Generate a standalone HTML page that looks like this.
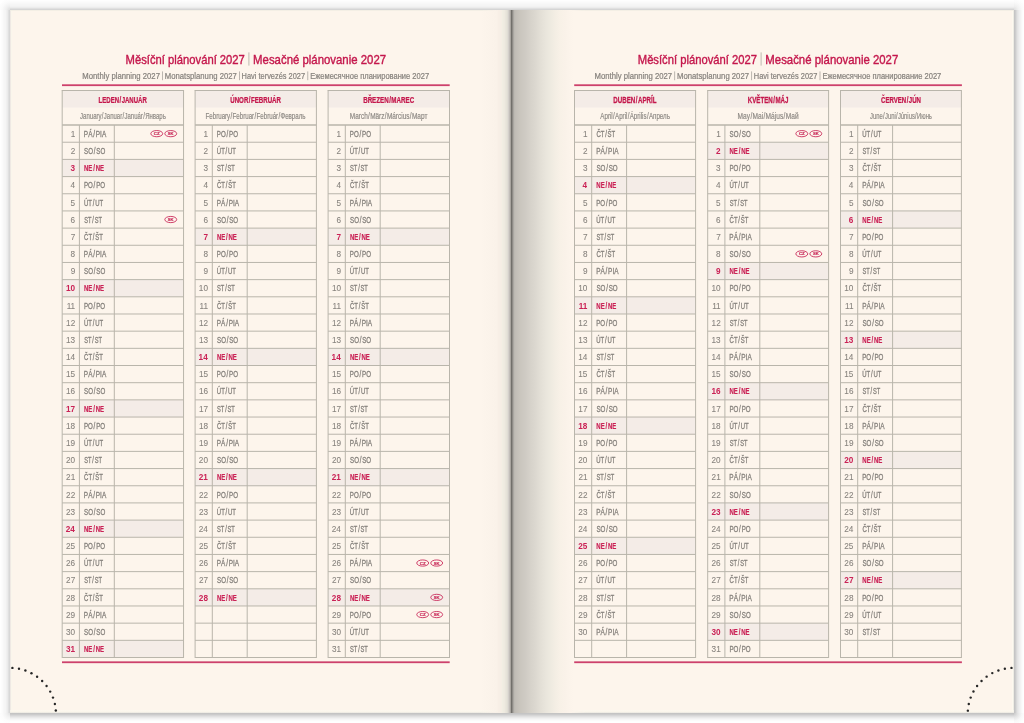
<!DOCTYPE html>
<html><head><meta charset="utf-8"><style>
html,body{margin:0;padding:0;}
body{width:1024px;height:723px;overflow:hidden;background:#fff;position:relative;font-family:"Liberation Sans",sans-serif;}
div{position:absolute;}
#pg{left:10px;top:10px;width:1004px;height:703px;background:linear-gradient(to right,#efe9e4 0.5px,#faf6ec 1.5px,#fdf5ec 2.5px,#fdf5ec 470.5px,#faf2e9 486.5px,#f9f1e8 487.5px,#f8efe6 488.5px,#f7efe6 489.5px,#f6eee5 490.5px,#f5eee4 491.5px,#f1eee3 492.5px,#f0ece1 493.5px,#eeeae0 494.5px,#eae6dc 495.5px,#e6e3d9 496.5px,#e0ddd4 497.5px,#d4d0cb 498.5px,#c3bfba 499.5px,#a9a59f 500.5px,#72706b 501.5px,#8e8b86 502.5px,#aaa7a1 503.5px,#bcb9b2 504.5px,#c1bdb6 505.5px,#c3bfb8 506.5px,#cac6be 510.5px,#cfcbc4 515.5px,#d6d2ca 520.5px,#dcd8d0 525.5px,#e3dfd6 530.5px,#e9e5dc 535.5px,#eeeae0 540.5px,#f4eee4 545.5px,#f8f1e7 550.5px,#faf2e9 555.5px,#fcf4eb 560.5px,#fdf5ec 564.5px,#fdf5ec 1001.5px,#fdf9ef 1002.5px,#eeece4 1003.5px);}
#st{left:10px;top:0;width:1004px;height:10px;background:linear-gradient(to bottom,rgb(254,254,254) 0px,rgb(254,254,254) 1px,rgb(252,252,252) 1px,rgb(252,252,252) 2px,rgb(250,250,250) 2px,rgb(250,250,250) 3px,rgb(248,248,248) 3px,rgb(248,248,248) 4px,rgb(246,246,246) 4px,rgb(246,246,246) 5px,rgb(245,245,245) 5px,rgb(245,245,245) 6px,rgb(242,242,242) 6px,rgb(242,242,242) 7px,rgb(236,236,236) 7px,rgb(236,236,236) 8px,rgb(224,224,224) 8px,rgb(224,224,224) 9px,rgb(213,213,213) 9px,rgb(213,213,213) 10px);}
#sb{left:10px;top:713px;width:1004px;height:10px;background:linear-gradient(to bottom,rgb(196,196,196) 0px,rgb(196,196,196) 1px,rgb(203,203,203) 1px,rgb(203,203,203) 2px,rgb(214,214,214) 2px,rgb(214,214,214) 3px,rgb(224,224,224) 3px,rgb(224,224,224) 4px,rgb(233,233,233) 4px,rgb(233,233,233) 5px,rgb(241,241,241) 5px,rgb(241,241,241) 6px,rgb(247,247,247) 6px,rgb(247,247,247) 7px,rgb(251,251,251) 7px,rgb(251,251,251) 8px,rgb(254,254,254) 8px,rgb(254,254,254) 9px,rgb(255,255,255) 9px,rgb(255,255,255) 10px);}
#sl{left:0;top:10px;width:10px;height:703px;background:linear-gradient(to right,rgb(255,255,255) 0px,rgb(255,255,255) 1px,rgb(253,253,253) 1px,rgb(253,253,253) 2px,rgb(251,251,251) 2px,rgb(251,251,251) 3px,rgb(248,248,248) 3px,rgb(248,248,248) 4px,rgb(246,246,246) 4px,rgb(246,246,246) 5px,rgb(245,245,245) 5px,rgb(245,245,245) 6px,rgb(240,240,240) 6px,rgb(240,240,240) 7px,rgb(235,235,235) 7px,rgb(235,235,235) 8px,rgb(224,224,224) 8px,rgb(224,224,224) 9px,rgb(216,216,216) 9px,rgb(216,216,216) 10px);}
#sr{left:1014px;top:10px;width:10px;height:703px;background:linear-gradient(to right,rgb(197,197,197) 0px,rgb(197,197,197) 1px,rgb(205,205,205) 1px,rgb(205,205,205) 2px,rgb(217,217,217) 2px,rgb(217,217,217) 3px,rgb(227,227,227) 3px,rgb(227,227,227) 4px,rgb(233,233,233) 4px,rgb(233,233,233) 5px,rgb(239,239,239) 5px,rgb(239,239,239) 6px,rgb(243,243,243) 6px,rgb(243,243,243) 7px,rgb(248,248,248) 7px,rgb(248,248,248) 8px,rgb(252,252,252) 8px,rgb(252,252,252) 9px,rgb(254,254,254) 9px,rgb(254,254,254) 10px);}
.cn{width:10px;height:10px;}
#c1{left:0;top:0;background:radial-gradient(circle at 100% 100%,rgb(222,222,222) 0,rgb(240,240,240) 4px,rgb(250,250,250) 8px,#fff 12px);}
#c2{left:1014px;top:0;background:radial-gradient(circle at 0 100%,rgb(222,222,222) 0,rgb(240,240,240) 4px,rgb(250,250,250) 8px,#fff 12px);}
#c3{left:0;top:713px;background:radial-gradient(circle at 100% 0,rgb(225,225,225) 0,rgb(242,242,242) 4px,rgb(252,252,252) 8px,#fff 12px);}
#c4{left:1014px;top:713px;background:radial-gradient(circle at 0 0,rgb(200,200,200) 0,rgb(228,228,228) 4px,rgb(248,248,248) 8px,#fff 12px);}
#ct{left:10px;top:10px;width:1004px;height:1px;background:rgba(240,236,226,0.7);-webkit-mask-image:linear-gradient(to right,#000 470px,transparent 490px,transparent 560px,#000 575px);mask-image:linear-gradient(to right,#000 470px,transparent 490px,transparent 560px,#000 575px);}
#cb{left:10px;top:710px;width:1004px;height:3px;-webkit-mask-image:linear-gradient(to right,#000 470px,transparent 490px,transparent 560px,#000 575px);mask-image:linear-gradient(to right,#000 470px,transparent 490px,transparent 560px,#000 575px);background:linear-gradient(to bottom,rgba(252,249,240,0.6) 0,rgba(252,249,240,0.6) 1px,rgba(249,247,236,0.7) 1px,rgba(249,247,236,0.7) 2px,rgba(238,236,228,0.9) 2px);}
svg{position:absolute;left:0;top:0;will-change:transform;}
svg text{font-family:"Liberation Sans",sans-serif;}
</style></head><body>
<div id="st"></div><div id="sb"></div><div id="sl"></div><div id="sr"></div>
<div class="cn" id="c1"></div><div class="cn" id="c2"></div><div class="cn" id="c3"></div><div class="cn" id="c4"></div>
<div id="pg"></div><div id="ct"></div><div id="cb"></div>
<svg width="1024" height="723" viewBox="0 0 1024 723">
<text x="125.58" y="63.85" font-size="13.2" fill="#c4174c" stroke="#c4174c" stroke-width="0.4" textLength="119.29" lengthAdjust="spacingAndGlyphs">Měsíční plánování 2027</text>
<text x="253.12" y="63.85" font-size="13.2" fill="#c4174c" stroke="#c4174c" stroke-width="0.4" textLength="132.96" lengthAdjust="spacingAndGlyphs">Mesačné plánovanie 2027</text>
<rect x="248.40" y="52.40" width="1.00" height="13.20" fill="#bdb9b0"/>
<text x="82.27" y="78.90" font-size="9.0" fill="#86827d" stroke="#86827d" stroke-width="0.22" textLength="77.67" lengthAdjust="spacingAndGlyphs">Monthly planning 2027</text>
<text x="164.77" y="78.90" font-size="9.0" fill="#86827d" stroke="#86827d" stroke-width="0.22" textLength="72.02" lengthAdjust="spacingAndGlyphs">Monatsplanung 2027</text>
<text x="241.59" y="78.90" font-size="9.0" fill="#86827d" stroke="#86827d" stroke-width="0.22" textLength="63.48" lengthAdjust="spacingAndGlyphs">Havi tervezés 2027</text>
<text x="310.28" y="78.90" font-size="9.0" fill="#86827d" stroke="#86827d" stroke-width="0.22" textLength="118.80" lengthAdjust="spacingAndGlyphs">Ежемесячное планирование 2027</text>
<rect x="162.10" y="71.40" width="0.80" height="8.80" fill="#aaa6a0"/>
<rect x="239.05" y="71.40" width="0.80" height="8.80" fill="#aaa6a0"/>
<rect x="307.40" y="71.40" width="0.80" height="8.80" fill="#aaa6a0"/>
<rect x="62.00" y="84.30" width="387.70" height="1.80" fill="#cd416c"/>
<rect x="62.00" y="661.35" width="387.70" height="1.80" fill="#cd416c"/>
<text x="637.78" y="63.85" font-size="13.2" fill="#c4174c" stroke="#c4174c" stroke-width="0.4" textLength="119.29" lengthAdjust="spacingAndGlyphs">Měsíční plánování 2027</text>
<text x="765.32" y="63.85" font-size="13.2" fill="#c4174c" stroke="#c4174c" stroke-width="0.4" textLength="132.96" lengthAdjust="spacingAndGlyphs">Mesačné plánovanie 2027</text>
<rect x="760.60" y="52.40" width="1.00" height="13.20" fill="#bdb9b0"/>
<text x="594.47" y="78.90" font-size="9.0" fill="#86827d" stroke="#86827d" stroke-width="0.22" textLength="77.67" lengthAdjust="spacingAndGlyphs">Monthly planning 2027</text>
<text x="676.97" y="78.90" font-size="9.0" fill="#86827d" stroke="#86827d" stroke-width="0.22" textLength="72.02" lengthAdjust="spacingAndGlyphs">Monatsplanung 2027</text>
<text x="753.79" y="78.90" font-size="9.0" fill="#86827d" stroke="#86827d" stroke-width="0.22" textLength="63.48" lengthAdjust="spacingAndGlyphs">Havi tervezés 2027</text>
<text x="822.48" y="78.90" font-size="9.0" fill="#86827d" stroke="#86827d" stroke-width="0.22" textLength="118.80" lengthAdjust="spacingAndGlyphs">Ежемесячное планирование 2027</text>
<rect x="674.30" y="71.40" width="0.80" height="8.80" fill="#aaa6a0"/>
<rect x="751.25" y="71.40" width="0.80" height="8.80" fill="#aaa6a0"/>
<rect x="819.60" y="71.40" width="0.80" height="8.80" fill="#aaa6a0"/>
<rect x="574.20" y="84.30" width="387.70" height="1.80" fill="#cd416c"/>
<rect x="574.20" y="661.35" width="387.70" height="1.80" fill="#cd416c"/>
<rect x="62.20" y="91.00" width="121.35" height="16.50" fill="#f4ece7"/>
<rect x="62.20" y="159.40" width="121.35" height="17.18" fill="#f4ece7"/>
<rect x="62.20" y="279.63" width="121.35" height="17.18" fill="#f4ece7"/>
<rect x="62.20" y="399.87" width="121.35" height="17.18" fill="#f4ece7"/>
<rect x="62.20" y="520.10" width="121.35" height="17.18" fill="#f4ece7"/>
<rect x="62.20" y="640.33" width="121.35" height="17.18" fill="#f4ece7"/>
<line x1="62.20" y1="125.05" x2="183.55" y2="125.05" stroke="#b9b5ab" stroke-width="1.4"/>
<line x1="62.20" y1="142.23" x2="183.55" y2="142.23" stroke="#b9b5ab" stroke-width="1.0"/>
<line x1="62.20" y1="159.40" x2="183.55" y2="159.40" stroke="#b9b5ab" stroke-width="1.0"/>
<line x1="62.20" y1="176.58" x2="183.55" y2="176.58" stroke="#b9b5ab" stroke-width="1.0"/>
<line x1="62.20" y1="193.75" x2="183.55" y2="193.75" stroke="#b9b5ab" stroke-width="1.0"/>
<line x1="62.20" y1="210.93" x2="183.55" y2="210.93" stroke="#b9b5ab" stroke-width="1.0"/>
<line x1="62.20" y1="228.11" x2="183.55" y2="228.11" stroke="#b9b5ab" stroke-width="1.0"/>
<line x1="62.20" y1="245.28" x2="183.55" y2="245.28" stroke="#b9b5ab" stroke-width="1.0"/>
<line x1="62.20" y1="262.46" x2="183.55" y2="262.46" stroke="#b9b5ab" stroke-width="1.0"/>
<line x1="62.20" y1="279.63" x2="183.55" y2="279.63" stroke="#b9b5ab" stroke-width="1.0"/>
<line x1="62.20" y1="296.81" x2="183.55" y2="296.81" stroke="#b9b5ab" stroke-width="1.0"/>
<line x1="62.20" y1="313.99" x2="183.55" y2="313.99" stroke="#b9b5ab" stroke-width="1.0"/>
<line x1="62.20" y1="331.16" x2="183.55" y2="331.16" stroke="#b9b5ab" stroke-width="1.0"/>
<line x1="62.20" y1="348.34" x2="183.55" y2="348.34" stroke="#b9b5ab" stroke-width="1.0"/>
<line x1="62.20" y1="365.51" x2="183.55" y2="365.51" stroke="#b9b5ab" stroke-width="1.0"/>
<line x1="62.20" y1="382.69" x2="183.55" y2="382.69" stroke="#b9b5ab" stroke-width="1.0"/>
<line x1="62.20" y1="399.87" x2="183.55" y2="399.87" stroke="#b9b5ab" stroke-width="1.0"/>
<line x1="62.20" y1="417.04" x2="183.55" y2="417.04" stroke="#b9b5ab" stroke-width="1.0"/>
<line x1="62.20" y1="434.22" x2="183.55" y2="434.22" stroke="#b9b5ab" stroke-width="1.0"/>
<line x1="62.20" y1="451.39" x2="183.55" y2="451.39" stroke="#b9b5ab" stroke-width="1.0"/>
<line x1="62.20" y1="468.57" x2="183.55" y2="468.57" stroke="#b9b5ab" stroke-width="1.0"/>
<line x1="62.20" y1="485.75" x2="183.55" y2="485.75" stroke="#b9b5ab" stroke-width="1.0"/>
<line x1="62.20" y1="502.92" x2="183.55" y2="502.92" stroke="#b9b5ab" stroke-width="1.0"/>
<line x1="62.20" y1="520.10" x2="183.55" y2="520.10" stroke="#b9b5ab" stroke-width="1.0"/>
<line x1="62.20" y1="537.27" x2="183.55" y2="537.27" stroke="#b9b5ab" stroke-width="1.0"/>
<line x1="62.20" y1="554.45" x2="183.55" y2="554.45" stroke="#b9b5ab" stroke-width="1.0"/>
<line x1="62.20" y1="571.63" x2="183.55" y2="571.63" stroke="#b9b5ab" stroke-width="1.0"/>
<line x1="62.20" y1="588.80" x2="183.55" y2="588.80" stroke="#b9b5ab" stroke-width="1.0"/>
<line x1="62.20" y1="605.98" x2="183.55" y2="605.98" stroke="#b9b5ab" stroke-width="1.0"/>
<line x1="62.20" y1="623.15" x2="183.55" y2="623.15" stroke="#b9b5ab" stroke-width="1.0"/>
<line x1="62.20" y1="640.33" x2="183.55" y2="640.33" stroke="#b9b5ab" stroke-width="1.0"/>
<line x1="62.20" y1="657.51" x2="183.55" y2="657.51" stroke="#b9b5ab" stroke-width="1.0"/>
<line x1="61.70" y1="90.50" x2="184.05" y2="90.50" stroke="#b9b5ab" stroke-width="1.0"/>
<line x1="62.20" y1="90.50" x2="62.20" y2="658.01" stroke="#b9b5ab" stroke-width="1.0"/>
<line x1="183.55" y1="90.50" x2="183.55" y2="658.01" stroke="#b9b5ab" stroke-width="1.0"/>
<line x1="79.40" y1="125.05" x2="79.40" y2="657.51" stroke="#b9b5ab" stroke-width="1.0"/>
<line x1="114.30" y1="125.05" x2="114.30" y2="657.51" stroke="#b9b5ab" stroke-width="1.0"/>
<text transform="matrix(0.7293 0 0 1 98.58 103.10)" font-size="8.3" fill="#c4174c" font-weight="bold" stroke="#c4174c" stroke-width="0.25">LEDEN<tspan dx="0.62">/</tspan><tspan dx="0.62">JANUÁR</tspan></text>
<text transform="matrix(0.7346 0 0 1 80.08 119.30)" font-size="8.2" fill="#8f8b86" stroke="#8f8b86" stroke-width="0.2">January<tspan dx="0.41">/</tspan><tspan dx="0.41">Januar</tspan><tspan dx="0.41">/</tspan><tspan dx="0.41">Január</tspan><tspan dx="0.41">/</tspan><tspan dx="0.41">Январь</tspan></text>
<text x="70.63" y="136.84" font-size="8.2" fill="#86827d" stroke="#86827d" stroke-width="0.08" textLength="4.56" lengthAdjust="spacingAndGlyphs">1</text>
<text transform="matrix(0.7658 0 0 1 83.87 136.84)" font-size="8.4" fill="#86827d" stroke="#86827d" stroke-width="0.3">PÁ<tspan dx="1.04">/</tspan><tspan dx="1.04">PIA</tspan></text>
<ellipse cx="170.75" cy="133.64" rx="5.95" ry="3.1" fill="none" stroke="#c4174c" stroke-width="0.95" opacity="0.85"/>
<text x="167.85" y="135.19" font-size="4.4" fill="#c4174c" font-weight="bold" stroke="#c4174c" stroke-width="0.22" opacity="0.9" textLength="5.8" lengthAdjust="spacingAndGlyphs">SK</text>
<ellipse cx="156.75" cy="133.64" rx="5.95" ry="3.1" fill="none" stroke="#c4174c" stroke-width="0.95" opacity="0.85"/>
<text x="153.85" y="135.19" font-size="4.4" fill="#c4174c" font-weight="bold" stroke="#c4174c" stroke-width="0.22" opacity="0.9" textLength="5.8" lengthAdjust="spacingAndGlyphs">CZ</text>
<text x="70.65" y="154.01" font-size="8.2" fill="#86827d" stroke="#86827d" stroke-width="0.08" textLength="4.56" lengthAdjust="spacingAndGlyphs">2</text>
<text transform="matrix(0.7356 0 0 1 84.12 154.01)" font-size="8.4" fill="#86827d" stroke="#86827d" stroke-width="0.3">SO<tspan dx="1.09">/</tspan><tspan dx="1.09">SO</tspan></text>
<text x="70.53" y="171.19" font-size="8.2" fill="#ca2256" font-weight="bold" textLength="4.56" lengthAdjust="spacingAndGlyphs">3</text>
<text transform="matrix(0.7181 0 0 1 84.00 171.19)" font-size="8.4" fill="#ca2256" font-weight="bold" stroke="#ca2256" stroke-width="0.16">NE<tspan dx="1.11">/</tspan><tspan dx="1.11">NE</tspan></text>
<text x="70.48" y="188.37" font-size="8.2" fill="#86827d" stroke="#86827d" stroke-width="0.08" textLength="4.56" lengthAdjust="spacingAndGlyphs">4</text>
<text transform="matrix(0.7367 0 0 1 83.89 188.37)" font-size="8.4" fill="#86827d" stroke="#86827d" stroke-width="0.3">PO<tspan dx="1.09">/</tspan><tspan dx="1.09">PO</tspan></text>
<text x="70.58" y="205.54" font-size="8.2" fill="#86827d" stroke="#86827d" stroke-width="0.08" textLength="4.56" lengthAdjust="spacingAndGlyphs">5</text>
<text transform="matrix(0.7116 0 0 1 83.94 205.54)" font-size="8.4" fill="#86827d" stroke="#86827d" stroke-width="0.3">ÚT<tspan dx="1.12">/</tspan><tspan dx="1.12">UT</tspan></text>
<text x="70.59" y="222.72" font-size="8.2" fill="#86827d" stroke="#86827d" stroke-width="0.08" textLength="4.56" lengthAdjust="spacingAndGlyphs">6</text>
<text transform="matrix(0.6800 0 0 1 84.14 222.72)" font-size="8.4" fill="#86827d" stroke="#86827d" stroke-width="0.3">ST<tspan dx="1.18">/</tspan><tspan dx="1.18">ST</tspan></text>
<ellipse cx="170.75" cy="219.52" rx="5.95" ry="3.1" fill="none" stroke="#c4174c" stroke-width="0.95" opacity="0.85"/>
<text x="167.85" y="221.07" font-size="4.4" fill="#c4174c" font-weight="bold" stroke="#c4174c" stroke-width="0.22" opacity="0.9" textLength="5.8" lengthAdjust="spacingAndGlyphs">SK</text>
<text x="70.65" y="239.89" font-size="8.2" fill="#86827d" stroke="#86827d" stroke-width="0.08" textLength="4.56" lengthAdjust="spacingAndGlyphs">7</text>
<text transform="matrix(0.7102 0 0 1 84.10 239.89)" font-size="8.4" fill="#86827d" stroke="#86827d" stroke-width="0.3">ČT<tspan dx="1.13">/</tspan><tspan dx="1.13">ŠT</tspan></text>
<text x="70.59" y="257.07" font-size="8.2" fill="#86827d" stroke="#86827d" stroke-width="0.08" textLength="4.56" lengthAdjust="spacingAndGlyphs">8</text>
<text transform="matrix(0.7658 0 0 1 83.87 257.07)" font-size="8.4" fill="#86827d" stroke="#86827d" stroke-width="0.3">PÁ<tspan dx="1.04">/</tspan><tspan dx="1.04">PIA</tspan></text>
<text x="70.63" y="274.25" font-size="8.2" fill="#86827d" stroke="#86827d" stroke-width="0.08" textLength="4.56" lengthAdjust="spacingAndGlyphs">9</text>
<text transform="matrix(0.7356 0 0 1 84.12 274.25)" font-size="8.4" fill="#86827d" stroke="#86827d" stroke-width="0.3">SO<tspan dx="1.09">/</tspan><tspan dx="1.09">SO</tspan></text>
<text x="66.01" y="291.42" font-size="8.2" fill="#ca2256" font-weight="bold" textLength="9.12" lengthAdjust="spacingAndGlyphs">10</text>
<text transform="matrix(0.7181 0 0 1 84.00 291.42)" font-size="8.4" fill="#ca2256" font-weight="bold" stroke="#ca2256" stroke-width="0.16">NE<tspan dx="1.11">/</tspan><tspan dx="1.11">NE</tspan></text>
<text x="66.68" y="308.60" font-size="8.2" fill="#86827d" stroke="#86827d" stroke-width="0.08" textLength="8.51" lengthAdjust="spacingAndGlyphs">11</text>
<text transform="matrix(0.7367 0 0 1 83.89 308.60)" font-size="8.4" fill="#86827d" stroke="#86827d" stroke-width="0.3">PO<tspan dx="1.09">/</tspan><tspan dx="1.09">PO</tspan></text>
<text x="66.09" y="325.77" font-size="8.2" fill="#86827d" stroke="#86827d" stroke-width="0.08" textLength="9.12" lengthAdjust="spacingAndGlyphs">12</text>
<text transform="matrix(0.7116 0 0 1 83.94 325.77)" font-size="8.4" fill="#86827d" stroke="#86827d" stroke-width="0.3">ÚT<tspan dx="1.12">/</tspan><tspan dx="1.12">UT</tspan></text>
<text x="66.03" y="342.95" font-size="8.2" fill="#86827d" stroke="#86827d" stroke-width="0.08" textLength="9.12" lengthAdjust="spacingAndGlyphs">13</text>
<text transform="matrix(0.6800 0 0 1 84.14 342.95)" font-size="8.4" fill="#86827d" stroke="#86827d" stroke-width="0.3">ST<tspan dx="1.18">/</tspan><tspan dx="1.18">ST</tspan></text>
<text x="65.92" y="360.13" font-size="8.2" fill="#86827d" stroke="#86827d" stroke-width="0.08" textLength="9.12" lengthAdjust="spacingAndGlyphs">14</text>
<text transform="matrix(0.7102 0 0 1 84.10 360.13)" font-size="8.4" fill="#86827d" stroke="#86827d" stroke-width="0.3">ČT<tspan dx="1.13">/</tspan><tspan dx="1.13">ŠT</tspan></text>
<text x="66.02" y="377.30" font-size="8.2" fill="#86827d" stroke="#86827d" stroke-width="0.08" textLength="9.12" lengthAdjust="spacingAndGlyphs">15</text>
<text transform="matrix(0.7658 0 0 1 83.87 377.30)" font-size="8.4" fill="#86827d" stroke="#86827d" stroke-width="0.3">PÁ<tspan dx="1.04">/</tspan><tspan dx="1.04">PIA</tspan></text>
<text x="66.03" y="394.48" font-size="8.2" fill="#86827d" stroke="#86827d" stroke-width="0.08" textLength="9.12" lengthAdjust="spacingAndGlyphs">16</text>
<text transform="matrix(0.7356 0 0 1 84.12 394.48)" font-size="8.4" fill="#86827d" stroke="#86827d" stroke-width="0.3">SO<tspan dx="1.09">/</tspan><tspan dx="1.09">SO</tspan></text>
<text x="66.03" y="411.65" font-size="8.2" fill="#ca2256" font-weight="bold" textLength="9.12" lengthAdjust="spacingAndGlyphs">17</text>
<text transform="matrix(0.7181 0 0 1 84.00 411.65)" font-size="8.4" fill="#ca2256" font-weight="bold" stroke="#ca2256" stroke-width="0.16">NE<tspan dx="1.11">/</tspan><tspan dx="1.11">NE</tspan></text>
<text x="66.03" y="428.83" font-size="8.2" fill="#86827d" stroke="#86827d" stroke-width="0.08" textLength="9.12" lengthAdjust="spacingAndGlyphs">18</text>
<text transform="matrix(0.7367 0 0 1 83.89 428.83)" font-size="8.4" fill="#86827d" stroke="#86827d" stroke-width="0.3">PO<tspan dx="1.09">/</tspan><tspan dx="1.09">PO</tspan></text>
<text x="66.07" y="446.01" font-size="8.2" fill="#86827d" stroke="#86827d" stroke-width="0.08" textLength="9.12" lengthAdjust="spacingAndGlyphs">19</text>
<text transform="matrix(0.7116 0 0 1 83.94 446.01)" font-size="8.4" fill="#86827d" stroke="#86827d" stroke-width="0.3">ÚT<tspan dx="1.12">/</tspan><tspan dx="1.12">UT</tspan></text>
<text x="65.99" y="463.18" font-size="8.2" fill="#86827d" stroke="#86827d" stroke-width="0.08" textLength="9.12" lengthAdjust="spacingAndGlyphs">20</text>
<text transform="matrix(0.6800 0 0 1 84.14 463.18)" font-size="8.4" fill="#86827d" stroke="#86827d" stroke-width="0.3">ST<tspan dx="1.18">/</tspan><tspan dx="1.18">ST</tspan></text>
<text x="66.08" y="480.36" font-size="8.2" fill="#86827d" stroke="#86827d" stroke-width="0.08" textLength="9.12" lengthAdjust="spacingAndGlyphs">21</text>
<text transform="matrix(0.7102 0 0 1 84.10 480.36)" font-size="8.4" fill="#86827d" stroke="#86827d" stroke-width="0.3">ČT<tspan dx="1.13">/</tspan><tspan dx="1.13">ŠT</tspan></text>
<text x="66.09" y="497.53" font-size="8.2" fill="#86827d" stroke="#86827d" stroke-width="0.08" textLength="9.12" lengthAdjust="spacingAndGlyphs">22</text>
<text transform="matrix(0.7658 0 0 1 83.87 497.53)" font-size="8.4" fill="#86827d" stroke="#86827d" stroke-width="0.3">PÁ<tspan dx="1.04">/</tspan><tspan dx="1.04">PIA</tspan></text>
<text x="66.03" y="514.71" font-size="8.2" fill="#86827d" stroke="#86827d" stroke-width="0.08" textLength="9.12" lengthAdjust="spacingAndGlyphs">23</text>
<text transform="matrix(0.7356 0 0 1 84.12 514.71)" font-size="8.4" fill="#86827d" stroke="#86827d" stroke-width="0.3">SO<tspan dx="1.09">/</tspan><tspan dx="1.09">SO</tspan></text>
<text x="65.72" y="531.89" font-size="8.2" fill="#ca2256" font-weight="bold" textLength="9.12" lengthAdjust="spacingAndGlyphs">24</text>
<text transform="matrix(0.7181 0 0 1 84.00 531.89)" font-size="8.4" fill="#ca2256" font-weight="bold" stroke="#ca2256" stroke-width="0.16">NE<tspan dx="1.11">/</tspan><tspan dx="1.11">NE</tspan></text>
<text x="66.02" y="549.06" font-size="8.2" fill="#86827d" stroke="#86827d" stroke-width="0.08" textLength="9.12" lengthAdjust="spacingAndGlyphs">25</text>
<text transform="matrix(0.7367 0 0 1 83.89 549.06)" font-size="8.4" fill="#86827d" stroke="#86827d" stroke-width="0.3">PO<tspan dx="1.09">/</tspan><tspan dx="1.09">PO</tspan></text>
<text x="66.03" y="566.24" font-size="8.2" fill="#86827d" stroke="#86827d" stroke-width="0.08" textLength="9.12" lengthAdjust="spacingAndGlyphs">26</text>
<text transform="matrix(0.7116 0 0 1 83.94 566.24)" font-size="8.4" fill="#86827d" stroke="#86827d" stroke-width="0.3">ÚT<tspan dx="1.12">/</tspan><tspan dx="1.12">UT</tspan></text>
<text x="66.09" y="583.41" font-size="8.2" fill="#86827d" stroke="#86827d" stroke-width="0.08" textLength="9.12" lengthAdjust="spacingAndGlyphs">27</text>
<text transform="matrix(0.6800 0 0 1 84.14 583.41)" font-size="8.4" fill="#86827d" stroke="#86827d" stroke-width="0.3">ST<tspan dx="1.18">/</tspan><tspan dx="1.18">ST</tspan></text>
<text x="66.03" y="600.59" font-size="8.2" fill="#86827d" stroke="#86827d" stroke-width="0.08" textLength="9.12" lengthAdjust="spacingAndGlyphs">28</text>
<text transform="matrix(0.7102 0 0 1 84.10 600.59)" font-size="8.4" fill="#86827d" stroke="#86827d" stroke-width="0.3">ČT<tspan dx="1.13">/</tspan><tspan dx="1.13">ŠT</tspan></text>
<text x="66.07" y="617.77" font-size="8.2" fill="#86827d" stroke="#86827d" stroke-width="0.08" textLength="9.12" lengthAdjust="spacingAndGlyphs">29</text>
<text transform="matrix(0.7658 0 0 1 83.87 617.77)" font-size="8.4" fill="#86827d" stroke="#86827d" stroke-width="0.3">PÁ<tspan dx="1.04">/</tspan><tspan dx="1.04">PIA</tspan></text>
<text x="65.99" y="634.94" font-size="8.2" fill="#86827d" stroke="#86827d" stroke-width="0.08" textLength="9.12" lengthAdjust="spacingAndGlyphs">30</text>
<text transform="matrix(0.7356 0 0 1 84.12 634.94)" font-size="8.4" fill="#86827d" stroke="#86827d" stroke-width="0.3">SO<tspan dx="1.09">/</tspan><tspan dx="1.09">SO</tspan></text>
<text x="65.90" y="652.12" font-size="8.2" fill="#ca2256" font-weight="bold" textLength="9.12" lengthAdjust="spacingAndGlyphs">31</text>
<text transform="matrix(0.7181 0 0 1 84.00 652.12)" font-size="8.4" fill="#ca2256" font-weight="bold" stroke="#ca2256" stroke-width="0.16">NE<tspan dx="1.11">/</tspan><tspan dx="1.11">NE</tspan></text>
<rect x="195.10" y="91.00" width="121.30" height="16.50" fill="#f4ece7"/>
<rect x="195.10" y="228.11" width="121.30" height="17.18" fill="#f4ece7"/>
<rect x="195.10" y="348.34" width="121.30" height="17.18" fill="#f4ece7"/>
<rect x="195.10" y="468.57" width="121.30" height="17.18" fill="#f4ece7"/>
<rect x="195.10" y="588.80" width="121.30" height="17.18" fill="#f4ece7"/>
<line x1="195.10" y1="125.05" x2="316.40" y2="125.05" stroke="#b9b5ab" stroke-width="1.4"/>
<line x1="195.10" y1="142.23" x2="316.40" y2="142.23" stroke="#b9b5ab" stroke-width="1.0"/>
<line x1="195.10" y1="159.40" x2="316.40" y2="159.40" stroke="#b9b5ab" stroke-width="1.0"/>
<line x1="195.10" y1="176.58" x2="316.40" y2="176.58" stroke="#b9b5ab" stroke-width="1.0"/>
<line x1="195.10" y1="193.75" x2="316.40" y2="193.75" stroke="#b9b5ab" stroke-width="1.0"/>
<line x1="195.10" y1="210.93" x2="316.40" y2="210.93" stroke="#b9b5ab" stroke-width="1.0"/>
<line x1="195.10" y1="228.11" x2="316.40" y2="228.11" stroke="#b9b5ab" stroke-width="1.0"/>
<line x1="195.10" y1="245.28" x2="316.40" y2="245.28" stroke="#b9b5ab" stroke-width="1.0"/>
<line x1="195.10" y1="262.46" x2="316.40" y2="262.46" stroke="#b9b5ab" stroke-width="1.0"/>
<line x1="195.10" y1="279.63" x2="316.40" y2="279.63" stroke="#b9b5ab" stroke-width="1.0"/>
<line x1="195.10" y1="296.81" x2="316.40" y2="296.81" stroke="#b9b5ab" stroke-width="1.0"/>
<line x1="195.10" y1="313.99" x2="316.40" y2="313.99" stroke="#b9b5ab" stroke-width="1.0"/>
<line x1="195.10" y1="331.16" x2="316.40" y2="331.16" stroke="#b9b5ab" stroke-width="1.0"/>
<line x1="195.10" y1="348.34" x2="316.40" y2="348.34" stroke="#b9b5ab" stroke-width="1.0"/>
<line x1="195.10" y1="365.51" x2="316.40" y2="365.51" stroke="#b9b5ab" stroke-width="1.0"/>
<line x1="195.10" y1="382.69" x2="316.40" y2="382.69" stroke="#b9b5ab" stroke-width="1.0"/>
<line x1="195.10" y1="399.87" x2="316.40" y2="399.87" stroke="#b9b5ab" stroke-width="1.0"/>
<line x1="195.10" y1="417.04" x2="316.40" y2="417.04" stroke="#b9b5ab" stroke-width="1.0"/>
<line x1="195.10" y1="434.22" x2="316.40" y2="434.22" stroke="#b9b5ab" stroke-width="1.0"/>
<line x1="195.10" y1="451.39" x2="316.40" y2="451.39" stroke="#b9b5ab" stroke-width="1.0"/>
<line x1="195.10" y1="468.57" x2="316.40" y2="468.57" stroke="#b9b5ab" stroke-width="1.0"/>
<line x1="195.10" y1="485.75" x2="316.40" y2="485.75" stroke="#b9b5ab" stroke-width="1.0"/>
<line x1="195.10" y1="502.92" x2="316.40" y2="502.92" stroke="#b9b5ab" stroke-width="1.0"/>
<line x1="195.10" y1="520.10" x2="316.40" y2="520.10" stroke="#b9b5ab" stroke-width="1.0"/>
<line x1="195.10" y1="537.27" x2="316.40" y2="537.27" stroke="#b9b5ab" stroke-width="1.0"/>
<line x1="195.10" y1="554.45" x2="316.40" y2="554.45" stroke="#b9b5ab" stroke-width="1.0"/>
<line x1="195.10" y1="571.63" x2="316.40" y2="571.63" stroke="#b9b5ab" stroke-width="1.0"/>
<line x1="195.10" y1="588.80" x2="316.40" y2="588.80" stroke="#b9b5ab" stroke-width="1.0"/>
<line x1="195.10" y1="605.98" x2="316.40" y2="605.98" stroke="#b9b5ab" stroke-width="1.0"/>
<line x1="195.10" y1="623.15" x2="316.40" y2="623.15" stroke="#b9b5ab" stroke-width="1.0"/>
<line x1="195.10" y1="640.33" x2="316.40" y2="640.33" stroke="#b9b5ab" stroke-width="1.0"/>
<line x1="195.10" y1="657.51" x2="316.40" y2="657.51" stroke="#b9b5ab" stroke-width="1.0"/>
<line x1="194.60" y1="90.50" x2="316.90" y2="90.50" stroke="#b9b5ab" stroke-width="1.0"/>
<line x1="195.10" y1="90.50" x2="195.10" y2="658.01" stroke="#b9b5ab" stroke-width="1.0"/>
<line x1="316.40" y1="90.50" x2="316.40" y2="658.01" stroke="#b9b5ab" stroke-width="1.0"/>
<line x1="212.30" y1="125.05" x2="212.30" y2="657.51" stroke="#b9b5ab" stroke-width="1.0"/>
<line x1="247.20" y1="125.05" x2="247.20" y2="657.51" stroke="#b9b5ab" stroke-width="1.0"/>
<text transform="matrix(0.7411 0 0 1 230.23 103.10)" font-size="8.3" fill="#c4174c" font-weight="bold" stroke="#c4174c" stroke-width="0.25">ÚNOR<tspan dx="0.61">/</tspan><tspan dx="0.61">FEBRUÁR</tspan></text>
<text transform="matrix(0.7551 0 0 1 205.49 119.30)" font-size="8.2" fill="#8f8b86" stroke="#8f8b86" stroke-width="0.2">February<tspan dx="0.40">/</tspan><tspan dx="0.40">Februar</tspan><tspan dx="0.40">/</tspan><tspan dx="0.40">Február</tspan><tspan dx="0.40">/</tspan><tspan dx="0.40">Февраль</tspan></text>
<text x="203.53" y="136.84" font-size="8.2" fill="#86827d" stroke="#86827d" stroke-width="0.08" textLength="4.56" lengthAdjust="spacingAndGlyphs">1</text>
<text transform="matrix(0.7367 0 0 1 216.79 136.84)" font-size="8.4" fill="#86827d" stroke="#86827d" stroke-width="0.3">PO<tspan dx="1.09">/</tspan><tspan dx="1.09">PO</tspan></text>
<text x="203.55" y="154.01" font-size="8.2" fill="#86827d" stroke="#86827d" stroke-width="0.08" textLength="4.56" lengthAdjust="spacingAndGlyphs">2</text>
<text transform="matrix(0.7116 0 0 1 216.84 154.01)" font-size="8.4" fill="#86827d" stroke="#86827d" stroke-width="0.3">ÚT<tspan dx="1.12">/</tspan><tspan dx="1.12">UT</tspan></text>
<text x="203.49" y="171.19" font-size="8.2" fill="#86827d" stroke="#86827d" stroke-width="0.08" textLength="4.56" lengthAdjust="spacingAndGlyphs">3</text>
<text transform="matrix(0.6800 0 0 1 217.04 171.19)" font-size="8.4" fill="#86827d" stroke="#86827d" stroke-width="0.3">ST<tspan dx="1.18">/</tspan><tspan dx="1.18">ST</tspan></text>
<text x="203.38" y="188.37" font-size="8.2" fill="#86827d" stroke="#86827d" stroke-width="0.08" textLength="4.56" lengthAdjust="spacingAndGlyphs">4</text>
<text transform="matrix(0.7102 0 0 1 217.00 188.37)" font-size="8.4" fill="#86827d" stroke="#86827d" stroke-width="0.3">ČT<tspan dx="1.13">/</tspan><tspan dx="1.13">ŠT</tspan></text>
<text x="203.48" y="205.54" font-size="8.2" fill="#86827d" stroke="#86827d" stroke-width="0.08" textLength="4.56" lengthAdjust="spacingAndGlyphs">5</text>
<text transform="matrix(0.7658 0 0 1 216.77 205.54)" font-size="8.4" fill="#86827d" stroke="#86827d" stroke-width="0.3">PÁ<tspan dx="1.04">/</tspan><tspan dx="1.04">PIA</tspan></text>
<text x="203.49" y="222.72" font-size="8.2" fill="#86827d" stroke="#86827d" stroke-width="0.08" textLength="4.56" lengthAdjust="spacingAndGlyphs">6</text>
<text transform="matrix(0.7356 0 0 1 217.02 222.72)" font-size="8.4" fill="#86827d" stroke="#86827d" stroke-width="0.3">SO<tspan dx="1.09">/</tspan><tspan dx="1.09">SO</tspan></text>
<text x="203.49" y="239.89" font-size="8.2" fill="#ca2256" font-weight="bold" textLength="4.56" lengthAdjust="spacingAndGlyphs">7</text>
<text transform="matrix(0.7181 0 0 1 216.90 239.89)" font-size="8.4" fill="#ca2256" font-weight="bold" stroke="#ca2256" stroke-width="0.16">NE<tspan dx="1.11">/</tspan><tspan dx="1.11">NE</tspan></text>
<text x="203.49" y="257.07" font-size="8.2" fill="#86827d" stroke="#86827d" stroke-width="0.08" textLength="4.56" lengthAdjust="spacingAndGlyphs">8</text>
<text transform="matrix(0.7367 0 0 1 216.79 257.07)" font-size="8.4" fill="#86827d" stroke="#86827d" stroke-width="0.3">PO<tspan dx="1.09">/</tspan><tspan dx="1.09">PO</tspan></text>
<text x="203.53" y="274.25" font-size="8.2" fill="#86827d" stroke="#86827d" stroke-width="0.08" textLength="4.56" lengthAdjust="spacingAndGlyphs">9</text>
<text transform="matrix(0.7116 0 0 1 216.84 274.25)" font-size="8.4" fill="#86827d" stroke="#86827d" stroke-width="0.3">ÚT<tspan dx="1.12">/</tspan><tspan dx="1.12">UT</tspan></text>
<text x="198.89" y="291.42" font-size="8.2" fill="#86827d" stroke="#86827d" stroke-width="0.08" textLength="9.12" lengthAdjust="spacingAndGlyphs">10</text>
<text transform="matrix(0.6800 0 0 1 217.04 291.42)" font-size="8.4" fill="#86827d" stroke="#86827d" stroke-width="0.3">ST<tspan dx="1.18">/</tspan><tspan dx="1.18">ST</tspan></text>
<text x="199.58" y="308.60" font-size="8.2" fill="#86827d" stroke="#86827d" stroke-width="0.08" textLength="8.51" lengthAdjust="spacingAndGlyphs">11</text>
<text transform="matrix(0.7102 0 0 1 217.00 308.60)" font-size="8.4" fill="#86827d" stroke="#86827d" stroke-width="0.3">ČT<tspan dx="1.13">/</tspan><tspan dx="1.13">ŠT</tspan></text>
<text x="198.99" y="325.77" font-size="8.2" fill="#86827d" stroke="#86827d" stroke-width="0.08" textLength="9.12" lengthAdjust="spacingAndGlyphs">12</text>
<text transform="matrix(0.7658 0 0 1 216.77 325.77)" font-size="8.4" fill="#86827d" stroke="#86827d" stroke-width="0.3">PÁ<tspan dx="1.04">/</tspan><tspan dx="1.04">PIA</tspan></text>
<text x="198.93" y="342.95" font-size="8.2" fill="#86827d" stroke="#86827d" stroke-width="0.08" textLength="9.12" lengthAdjust="spacingAndGlyphs">13</text>
<text transform="matrix(0.7356 0 0 1 217.02 342.95)" font-size="8.4" fill="#86827d" stroke="#86827d" stroke-width="0.3">SO<tspan dx="1.09">/</tspan><tspan dx="1.09">SO</tspan></text>
<text x="198.62" y="360.13" font-size="8.2" fill="#ca2256" font-weight="bold" textLength="9.12" lengthAdjust="spacingAndGlyphs">14</text>
<text transform="matrix(0.7181 0 0 1 216.90 360.13)" font-size="8.4" fill="#ca2256" font-weight="bold" stroke="#ca2256" stroke-width="0.16">NE<tspan dx="1.11">/</tspan><tspan dx="1.11">NE</tspan></text>
<text x="198.92" y="377.30" font-size="8.2" fill="#86827d" stroke="#86827d" stroke-width="0.08" textLength="9.12" lengthAdjust="spacingAndGlyphs">15</text>
<text transform="matrix(0.7367 0 0 1 216.79 377.30)" font-size="8.4" fill="#86827d" stroke="#86827d" stroke-width="0.3">PO<tspan dx="1.09">/</tspan><tspan dx="1.09">PO</tspan></text>
<text x="198.93" y="394.48" font-size="8.2" fill="#86827d" stroke="#86827d" stroke-width="0.08" textLength="9.12" lengthAdjust="spacingAndGlyphs">16</text>
<text transform="matrix(0.7116 0 0 1 216.84 394.48)" font-size="8.4" fill="#86827d" stroke="#86827d" stroke-width="0.3">ÚT<tspan dx="1.12">/</tspan><tspan dx="1.12">UT</tspan></text>
<text x="198.99" y="411.65" font-size="8.2" fill="#86827d" stroke="#86827d" stroke-width="0.08" textLength="9.12" lengthAdjust="spacingAndGlyphs">17</text>
<text transform="matrix(0.6800 0 0 1 217.04 411.65)" font-size="8.4" fill="#86827d" stroke="#86827d" stroke-width="0.3">ST<tspan dx="1.18">/</tspan><tspan dx="1.18">ST</tspan></text>
<text x="198.93" y="428.83" font-size="8.2" fill="#86827d" stroke="#86827d" stroke-width="0.08" textLength="9.12" lengthAdjust="spacingAndGlyphs">18</text>
<text transform="matrix(0.7102 0 0 1 217.00 428.83)" font-size="8.4" fill="#86827d" stroke="#86827d" stroke-width="0.3">ČT<tspan dx="1.13">/</tspan><tspan dx="1.13">ŠT</tspan></text>
<text x="198.97" y="446.01" font-size="8.2" fill="#86827d" stroke="#86827d" stroke-width="0.08" textLength="9.12" lengthAdjust="spacingAndGlyphs">19</text>
<text transform="matrix(0.7658 0 0 1 216.77 446.01)" font-size="8.4" fill="#86827d" stroke="#86827d" stroke-width="0.3">PÁ<tspan dx="1.04">/</tspan><tspan dx="1.04">PIA</tspan></text>
<text x="198.89" y="463.18" font-size="8.2" fill="#86827d" stroke="#86827d" stroke-width="0.08" textLength="9.12" lengthAdjust="spacingAndGlyphs">20</text>
<text transform="matrix(0.7356 0 0 1 217.02 463.18)" font-size="8.4" fill="#86827d" stroke="#86827d" stroke-width="0.3">SO<tspan dx="1.09">/</tspan><tspan dx="1.09">SO</tspan></text>
<text x="198.80" y="480.36" font-size="8.2" fill="#ca2256" font-weight="bold" textLength="9.12" lengthAdjust="spacingAndGlyphs">21</text>
<text transform="matrix(0.7181 0 0 1 216.90 480.36)" font-size="8.4" fill="#ca2256" font-weight="bold" stroke="#ca2256" stroke-width="0.16">NE<tspan dx="1.11">/</tspan><tspan dx="1.11">NE</tspan></text>
<text x="198.99" y="497.53" font-size="8.2" fill="#86827d" stroke="#86827d" stroke-width="0.08" textLength="9.12" lengthAdjust="spacingAndGlyphs">22</text>
<text transform="matrix(0.7367 0 0 1 216.79 497.53)" font-size="8.4" fill="#86827d" stroke="#86827d" stroke-width="0.3">PO<tspan dx="1.09">/</tspan><tspan dx="1.09">PO</tspan></text>
<text x="198.93" y="514.71" font-size="8.2" fill="#86827d" stroke="#86827d" stroke-width="0.08" textLength="9.12" lengthAdjust="spacingAndGlyphs">23</text>
<text transform="matrix(0.7116 0 0 1 216.84 514.71)" font-size="8.4" fill="#86827d" stroke="#86827d" stroke-width="0.3">ÚT<tspan dx="1.12">/</tspan><tspan dx="1.12">UT</tspan></text>
<text x="198.82" y="531.89" font-size="8.2" fill="#86827d" stroke="#86827d" stroke-width="0.08" textLength="9.12" lengthAdjust="spacingAndGlyphs">24</text>
<text transform="matrix(0.6800 0 0 1 217.04 531.89)" font-size="8.4" fill="#86827d" stroke="#86827d" stroke-width="0.3">ST<tspan dx="1.18">/</tspan><tspan dx="1.18">ST</tspan></text>
<text x="198.92" y="549.06" font-size="8.2" fill="#86827d" stroke="#86827d" stroke-width="0.08" textLength="9.12" lengthAdjust="spacingAndGlyphs">25</text>
<text transform="matrix(0.7102 0 0 1 217.00 549.06)" font-size="8.4" fill="#86827d" stroke="#86827d" stroke-width="0.3">ČT<tspan dx="1.13">/</tspan><tspan dx="1.13">ŠT</tspan></text>
<text x="198.93" y="566.24" font-size="8.2" fill="#86827d" stroke="#86827d" stroke-width="0.08" textLength="9.12" lengthAdjust="spacingAndGlyphs">26</text>
<text transform="matrix(0.7658 0 0 1 216.77 566.24)" font-size="8.4" fill="#86827d" stroke="#86827d" stroke-width="0.3">PÁ<tspan dx="1.04">/</tspan><tspan dx="1.04">PIA</tspan></text>
<text x="198.99" y="583.41" font-size="8.2" fill="#86827d" stroke="#86827d" stroke-width="0.08" textLength="9.12" lengthAdjust="spacingAndGlyphs">27</text>
<text transform="matrix(0.7356 0 0 1 217.02 583.41)" font-size="8.4" fill="#86827d" stroke="#86827d" stroke-width="0.3">SO<tspan dx="1.09">/</tspan><tspan dx="1.09">SO</tspan></text>
<text x="198.83" y="600.59" font-size="8.2" fill="#ca2256" font-weight="bold" textLength="9.12" lengthAdjust="spacingAndGlyphs">28</text>
<text transform="matrix(0.7181 0 0 1 216.90 600.59)" font-size="8.4" fill="#ca2256" font-weight="bold" stroke="#ca2256" stroke-width="0.16">NE<tspan dx="1.11">/</tspan><tspan dx="1.11">NE</tspan></text>
<rect x="328.10" y="91.00" width="121.40" height="16.50" fill="#f4ece7"/>
<rect x="328.10" y="228.11" width="121.40" height="17.18" fill="#f4ece7"/>
<rect x="328.10" y="348.34" width="121.40" height="17.18" fill="#f4ece7"/>
<rect x="328.10" y="468.57" width="121.40" height="17.18" fill="#f4ece7"/>
<rect x="328.10" y="588.80" width="121.40" height="17.18" fill="#f4ece7"/>
<line x1="328.10" y1="125.05" x2="449.50" y2="125.05" stroke="#b9b5ab" stroke-width="1.4"/>
<line x1="328.10" y1="142.23" x2="449.50" y2="142.23" stroke="#b9b5ab" stroke-width="1.0"/>
<line x1="328.10" y1="159.40" x2="449.50" y2="159.40" stroke="#b9b5ab" stroke-width="1.0"/>
<line x1="328.10" y1="176.58" x2="449.50" y2="176.58" stroke="#b9b5ab" stroke-width="1.0"/>
<line x1="328.10" y1="193.75" x2="449.50" y2="193.75" stroke="#b9b5ab" stroke-width="1.0"/>
<line x1="328.10" y1="210.93" x2="449.50" y2="210.93" stroke="#b9b5ab" stroke-width="1.0"/>
<line x1="328.10" y1="228.11" x2="449.50" y2="228.11" stroke="#b9b5ab" stroke-width="1.0"/>
<line x1="328.10" y1="245.28" x2="449.50" y2="245.28" stroke="#b9b5ab" stroke-width="1.0"/>
<line x1="328.10" y1="262.46" x2="449.50" y2="262.46" stroke="#b9b5ab" stroke-width="1.0"/>
<line x1="328.10" y1="279.63" x2="449.50" y2="279.63" stroke="#b9b5ab" stroke-width="1.0"/>
<line x1="328.10" y1="296.81" x2="449.50" y2="296.81" stroke="#b9b5ab" stroke-width="1.0"/>
<line x1="328.10" y1="313.99" x2="449.50" y2="313.99" stroke="#b9b5ab" stroke-width="1.0"/>
<line x1="328.10" y1="331.16" x2="449.50" y2="331.16" stroke="#b9b5ab" stroke-width="1.0"/>
<line x1="328.10" y1="348.34" x2="449.50" y2="348.34" stroke="#b9b5ab" stroke-width="1.0"/>
<line x1="328.10" y1="365.51" x2="449.50" y2="365.51" stroke="#b9b5ab" stroke-width="1.0"/>
<line x1="328.10" y1="382.69" x2="449.50" y2="382.69" stroke="#b9b5ab" stroke-width="1.0"/>
<line x1="328.10" y1="399.87" x2="449.50" y2="399.87" stroke="#b9b5ab" stroke-width="1.0"/>
<line x1="328.10" y1="417.04" x2="449.50" y2="417.04" stroke="#b9b5ab" stroke-width="1.0"/>
<line x1="328.10" y1="434.22" x2="449.50" y2="434.22" stroke="#b9b5ab" stroke-width="1.0"/>
<line x1="328.10" y1="451.39" x2="449.50" y2="451.39" stroke="#b9b5ab" stroke-width="1.0"/>
<line x1="328.10" y1="468.57" x2="449.50" y2="468.57" stroke="#b9b5ab" stroke-width="1.0"/>
<line x1="328.10" y1="485.75" x2="449.50" y2="485.75" stroke="#b9b5ab" stroke-width="1.0"/>
<line x1="328.10" y1="502.92" x2="449.50" y2="502.92" stroke="#b9b5ab" stroke-width="1.0"/>
<line x1="328.10" y1="520.10" x2="449.50" y2="520.10" stroke="#b9b5ab" stroke-width="1.0"/>
<line x1="328.10" y1="537.27" x2="449.50" y2="537.27" stroke="#b9b5ab" stroke-width="1.0"/>
<line x1="328.10" y1="554.45" x2="449.50" y2="554.45" stroke="#b9b5ab" stroke-width="1.0"/>
<line x1="328.10" y1="571.63" x2="449.50" y2="571.63" stroke="#b9b5ab" stroke-width="1.0"/>
<line x1="328.10" y1="588.80" x2="449.50" y2="588.80" stroke="#b9b5ab" stroke-width="1.0"/>
<line x1="328.10" y1="605.98" x2="449.50" y2="605.98" stroke="#b9b5ab" stroke-width="1.0"/>
<line x1="328.10" y1="623.15" x2="449.50" y2="623.15" stroke="#b9b5ab" stroke-width="1.0"/>
<line x1="328.10" y1="640.33" x2="449.50" y2="640.33" stroke="#b9b5ab" stroke-width="1.0"/>
<line x1="328.10" y1="657.51" x2="449.50" y2="657.51" stroke="#b9b5ab" stroke-width="1.0"/>
<line x1="327.60" y1="90.50" x2="450.00" y2="90.50" stroke="#b9b5ab" stroke-width="1.0"/>
<line x1="328.10" y1="90.50" x2="328.10" y2="658.01" stroke="#b9b5ab" stroke-width="1.0"/>
<line x1="449.50" y1="90.50" x2="449.50" y2="658.01" stroke="#b9b5ab" stroke-width="1.0"/>
<line x1="345.30" y1="125.05" x2="345.30" y2="657.51" stroke="#b9b5ab" stroke-width="1.0"/>
<line x1="380.20" y1="125.05" x2="380.20" y2="657.51" stroke="#b9b5ab" stroke-width="1.0"/>
<text transform="matrix(0.7505 0 0 1 363.14 103.10)" font-size="8.3" fill="#c4174c" font-weight="bold" stroke="#c4174c" stroke-width="0.25">BŘEZEN<tspan dx="0.60">/</tspan><tspan dx="0.60">MAREC</tspan></text>
<text transform="matrix(0.7876 0 0 1 349.82 119.30)" font-size="8.2" fill="#8f8b86" stroke="#8f8b86" stroke-width="0.2">March<tspan dx="0.38">/</tspan><tspan dx="0.38">März</tspan><tspan dx="0.38">/</tspan><tspan dx="0.38">Március</tspan><tspan dx="0.38">/</tspan><tspan dx="0.38">Март</tspan></text>
<text x="336.53" y="136.84" font-size="8.2" fill="#86827d" stroke="#86827d" stroke-width="0.08" textLength="4.56" lengthAdjust="spacingAndGlyphs">1</text>
<text transform="matrix(0.7367 0 0 1 349.79 136.84)" font-size="8.4" fill="#86827d" stroke="#86827d" stroke-width="0.3">PO<tspan dx="1.09">/</tspan><tspan dx="1.09">PO</tspan></text>
<text x="336.55" y="154.01" font-size="8.2" fill="#86827d" stroke="#86827d" stroke-width="0.08" textLength="4.56" lengthAdjust="spacingAndGlyphs">2</text>
<text transform="matrix(0.7116 0 0 1 349.84 154.01)" font-size="8.4" fill="#86827d" stroke="#86827d" stroke-width="0.3">ÚT<tspan dx="1.12">/</tspan><tspan dx="1.12">UT</tspan></text>
<text x="336.49" y="171.19" font-size="8.2" fill="#86827d" stroke="#86827d" stroke-width="0.08" textLength="4.56" lengthAdjust="spacingAndGlyphs">3</text>
<text transform="matrix(0.6800 0 0 1 350.04 171.19)" font-size="8.4" fill="#86827d" stroke="#86827d" stroke-width="0.3">ST<tspan dx="1.18">/</tspan><tspan dx="1.18">ST</tspan></text>
<text x="336.38" y="188.37" font-size="8.2" fill="#86827d" stroke="#86827d" stroke-width="0.08" textLength="4.56" lengthAdjust="spacingAndGlyphs">4</text>
<text transform="matrix(0.7102 0 0 1 350.00 188.37)" font-size="8.4" fill="#86827d" stroke="#86827d" stroke-width="0.3">ČT<tspan dx="1.13">/</tspan><tspan dx="1.13">ŠT</tspan></text>
<text x="336.48" y="205.54" font-size="8.2" fill="#86827d" stroke="#86827d" stroke-width="0.08" textLength="4.56" lengthAdjust="spacingAndGlyphs">5</text>
<text transform="matrix(0.7658 0 0 1 349.77 205.54)" font-size="8.4" fill="#86827d" stroke="#86827d" stroke-width="0.3">PÁ<tspan dx="1.04">/</tspan><tspan dx="1.04">PIA</tspan></text>
<text x="336.49" y="222.72" font-size="8.2" fill="#86827d" stroke="#86827d" stroke-width="0.08" textLength="4.56" lengthAdjust="spacingAndGlyphs">6</text>
<text transform="matrix(0.7356 0 0 1 350.02 222.72)" font-size="8.4" fill="#86827d" stroke="#86827d" stroke-width="0.3">SO<tspan dx="1.09">/</tspan><tspan dx="1.09">SO</tspan></text>
<text x="336.49" y="239.89" font-size="8.2" fill="#ca2256" font-weight="bold" textLength="4.56" lengthAdjust="spacingAndGlyphs">7</text>
<text transform="matrix(0.7181 0 0 1 349.90 239.89)" font-size="8.4" fill="#ca2256" font-weight="bold" stroke="#ca2256" stroke-width="0.16">NE<tspan dx="1.11">/</tspan><tspan dx="1.11">NE</tspan></text>
<text x="336.49" y="257.07" font-size="8.2" fill="#86827d" stroke="#86827d" stroke-width="0.08" textLength="4.56" lengthAdjust="spacingAndGlyphs">8</text>
<text transform="matrix(0.7367 0 0 1 349.79 257.07)" font-size="8.4" fill="#86827d" stroke="#86827d" stroke-width="0.3">PO<tspan dx="1.09">/</tspan><tspan dx="1.09">PO</tspan></text>
<text x="336.53" y="274.25" font-size="8.2" fill="#86827d" stroke="#86827d" stroke-width="0.08" textLength="4.56" lengthAdjust="spacingAndGlyphs">9</text>
<text transform="matrix(0.7116 0 0 1 349.84 274.25)" font-size="8.4" fill="#86827d" stroke="#86827d" stroke-width="0.3">ÚT<tspan dx="1.12">/</tspan><tspan dx="1.12">UT</tspan></text>
<text x="331.89" y="291.42" font-size="8.2" fill="#86827d" stroke="#86827d" stroke-width="0.08" textLength="9.12" lengthAdjust="spacingAndGlyphs">10</text>
<text transform="matrix(0.6800 0 0 1 350.04 291.42)" font-size="8.4" fill="#86827d" stroke="#86827d" stroke-width="0.3">ST<tspan dx="1.18">/</tspan><tspan dx="1.18">ST</tspan></text>
<text x="332.58" y="308.60" font-size="8.2" fill="#86827d" stroke="#86827d" stroke-width="0.08" textLength="8.51" lengthAdjust="spacingAndGlyphs">11</text>
<text transform="matrix(0.7102 0 0 1 350.00 308.60)" font-size="8.4" fill="#86827d" stroke="#86827d" stroke-width="0.3">ČT<tspan dx="1.13">/</tspan><tspan dx="1.13">ŠT</tspan></text>
<text x="331.99" y="325.77" font-size="8.2" fill="#86827d" stroke="#86827d" stroke-width="0.08" textLength="9.12" lengthAdjust="spacingAndGlyphs">12</text>
<text transform="matrix(0.7658 0 0 1 349.77 325.77)" font-size="8.4" fill="#86827d" stroke="#86827d" stroke-width="0.3">PÁ<tspan dx="1.04">/</tspan><tspan dx="1.04">PIA</tspan></text>
<text x="331.93" y="342.95" font-size="8.2" fill="#86827d" stroke="#86827d" stroke-width="0.08" textLength="9.12" lengthAdjust="spacingAndGlyphs">13</text>
<text transform="matrix(0.7356 0 0 1 350.02 342.95)" font-size="8.4" fill="#86827d" stroke="#86827d" stroke-width="0.3">SO<tspan dx="1.09">/</tspan><tspan dx="1.09">SO</tspan></text>
<text x="331.62" y="360.13" font-size="8.2" fill="#ca2256" font-weight="bold" textLength="9.12" lengthAdjust="spacingAndGlyphs">14</text>
<text transform="matrix(0.7181 0 0 1 349.90 360.13)" font-size="8.4" fill="#ca2256" font-weight="bold" stroke="#ca2256" stroke-width="0.16">NE<tspan dx="1.11">/</tspan><tspan dx="1.11">NE</tspan></text>
<text x="331.92" y="377.30" font-size="8.2" fill="#86827d" stroke="#86827d" stroke-width="0.08" textLength="9.12" lengthAdjust="spacingAndGlyphs">15</text>
<text transform="matrix(0.7367 0 0 1 349.79 377.30)" font-size="8.4" fill="#86827d" stroke="#86827d" stroke-width="0.3">PO<tspan dx="1.09">/</tspan><tspan dx="1.09">PO</tspan></text>
<text x="331.93" y="394.48" font-size="8.2" fill="#86827d" stroke="#86827d" stroke-width="0.08" textLength="9.12" lengthAdjust="spacingAndGlyphs">16</text>
<text transform="matrix(0.7116 0 0 1 349.84 394.48)" font-size="8.4" fill="#86827d" stroke="#86827d" stroke-width="0.3">ÚT<tspan dx="1.12">/</tspan><tspan dx="1.12">UT</tspan></text>
<text x="331.99" y="411.65" font-size="8.2" fill="#86827d" stroke="#86827d" stroke-width="0.08" textLength="9.12" lengthAdjust="spacingAndGlyphs">17</text>
<text transform="matrix(0.6800 0 0 1 350.04 411.65)" font-size="8.4" fill="#86827d" stroke="#86827d" stroke-width="0.3">ST<tspan dx="1.18">/</tspan><tspan dx="1.18">ST</tspan></text>
<text x="331.93" y="428.83" font-size="8.2" fill="#86827d" stroke="#86827d" stroke-width="0.08" textLength="9.12" lengthAdjust="spacingAndGlyphs">18</text>
<text transform="matrix(0.7102 0 0 1 350.00 428.83)" font-size="8.4" fill="#86827d" stroke="#86827d" stroke-width="0.3">ČT<tspan dx="1.13">/</tspan><tspan dx="1.13">ŠT</tspan></text>
<text x="331.97" y="446.01" font-size="8.2" fill="#86827d" stroke="#86827d" stroke-width="0.08" textLength="9.12" lengthAdjust="spacingAndGlyphs">19</text>
<text transform="matrix(0.7658 0 0 1 349.77 446.01)" font-size="8.4" fill="#86827d" stroke="#86827d" stroke-width="0.3">PÁ<tspan dx="1.04">/</tspan><tspan dx="1.04">PIA</tspan></text>
<text x="331.89" y="463.18" font-size="8.2" fill="#86827d" stroke="#86827d" stroke-width="0.08" textLength="9.12" lengthAdjust="spacingAndGlyphs">20</text>
<text transform="matrix(0.7356 0 0 1 350.02 463.18)" font-size="8.4" fill="#86827d" stroke="#86827d" stroke-width="0.3">SO<tspan dx="1.09">/</tspan><tspan dx="1.09">SO</tspan></text>
<text x="331.80" y="480.36" font-size="8.2" fill="#ca2256" font-weight="bold" textLength="9.12" lengthAdjust="spacingAndGlyphs">21</text>
<text transform="matrix(0.7181 0 0 1 349.90 480.36)" font-size="8.4" fill="#ca2256" font-weight="bold" stroke="#ca2256" stroke-width="0.16">NE<tspan dx="1.11">/</tspan><tspan dx="1.11">NE</tspan></text>
<text x="331.99" y="497.53" font-size="8.2" fill="#86827d" stroke="#86827d" stroke-width="0.08" textLength="9.12" lengthAdjust="spacingAndGlyphs">22</text>
<text transform="matrix(0.7367 0 0 1 349.79 497.53)" font-size="8.4" fill="#86827d" stroke="#86827d" stroke-width="0.3">PO<tspan dx="1.09">/</tspan><tspan dx="1.09">PO</tspan></text>
<text x="331.93" y="514.71" font-size="8.2" fill="#86827d" stroke="#86827d" stroke-width="0.08" textLength="9.12" lengthAdjust="spacingAndGlyphs">23</text>
<text transform="matrix(0.7116 0 0 1 349.84 514.71)" font-size="8.4" fill="#86827d" stroke="#86827d" stroke-width="0.3">ÚT<tspan dx="1.12">/</tspan><tspan dx="1.12">UT</tspan></text>
<text x="331.82" y="531.89" font-size="8.2" fill="#86827d" stroke="#86827d" stroke-width="0.08" textLength="9.12" lengthAdjust="spacingAndGlyphs">24</text>
<text transform="matrix(0.6800 0 0 1 350.04 531.89)" font-size="8.4" fill="#86827d" stroke="#86827d" stroke-width="0.3">ST<tspan dx="1.18">/</tspan><tspan dx="1.18">ST</tspan></text>
<text x="331.92" y="549.06" font-size="8.2" fill="#86827d" stroke="#86827d" stroke-width="0.08" textLength="9.12" lengthAdjust="spacingAndGlyphs">25</text>
<text transform="matrix(0.7102 0 0 1 350.00 549.06)" font-size="8.4" fill="#86827d" stroke="#86827d" stroke-width="0.3">ČT<tspan dx="1.13">/</tspan><tspan dx="1.13">ŠT</tspan></text>
<text x="331.93" y="566.24" font-size="8.2" fill="#86827d" stroke="#86827d" stroke-width="0.08" textLength="9.12" lengthAdjust="spacingAndGlyphs">26</text>
<text transform="matrix(0.7658 0 0 1 349.77 566.24)" font-size="8.4" fill="#86827d" stroke="#86827d" stroke-width="0.3">PÁ<tspan dx="1.04">/</tspan><tspan dx="1.04">PIA</tspan></text>
<ellipse cx="436.70" cy="563.04" rx="5.95" ry="3.1" fill="none" stroke="#c4174c" stroke-width="0.95" opacity="0.85"/>
<text x="433.80" y="564.59" font-size="4.4" fill="#c4174c" font-weight="bold" stroke="#c4174c" stroke-width="0.22" opacity="0.9" textLength="5.8" lengthAdjust="spacingAndGlyphs">SK</text>
<ellipse cx="422.70" cy="563.04" rx="5.95" ry="3.1" fill="none" stroke="#c4174c" stroke-width="0.95" opacity="0.85"/>
<text x="419.80" y="564.59" font-size="4.4" fill="#c4174c" font-weight="bold" stroke="#c4174c" stroke-width="0.22" opacity="0.9" textLength="5.8" lengthAdjust="spacingAndGlyphs">CZ</text>
<text x="331.99" y="583.41" font-size="8.2" fill="#86827d" stroke="#86827d" stroke-width="0.08" textLength="9.12" lengthAdjust="spacingAndGlyphs">27</text>
<text transform="matrix(0.7356 0 0 1 350.02 583.41)" font-size="8.4" fill="#86827d" stroke="#86827d" stroke-width="0.3">SO<tspan dx="1.09">/</tspan><tspan dx="1.09">SO</tspan></text>
<text x="331.83" y="600.59" font-size="8.2" fill="#ca2256" font-weight="bold" textLength="9.12" lengthAdjust="spacingAndGlyphs">28</text>
<text transform="matrix(0.7181 0 0 1 349.90 600.59)" font-size="8.4" fill="#ca2256" font-weight="bold" stroke="#ca2256" stroke-width="0.16">NE<tspan dx="1.11">/</tspan><tspan dx="1.11">NE</tspan></text>
<ellipse cx="436.70" cy="597.39" rx="5.95" ry="3.1" fill="none" stroke="#c4174c" stroke-width="0.95" opacity="0.85"/>
<text x="433.80" y="598.94" font-size="4.4" fill="#c4174c" font-weight="bold" stroke="#c4174c" stroke-width="0.22" opacity="0.9" textLength="5.8" lengthAdjust="spacingAndGlyphs">SK</text>
<text x="331.97" y="617.77" font-size="8.2" fill="#86827d" stroke="#86827d" stroke-width="0.08" textLength="9.12" lengthAdjust="spacingAndGlyphs">29</text>
<text transform="matrix(0.7367 0 0 1 349.79 617.77)" font-size="8.4" fill="#86827d" stroke="#86827d" stroke-width="0.3">PO<tspan dx="1.09">/</tspan><tspan dx="1.09">PO</tspan></text>
<ellipse cx="436.70" cy="614.57" rx="5.95" ry="3.1" fill="none" stroke="#c4174c" stroke-width="0.95" opacity="0.85"/>
<text x="433.80" y="616.12" font-size="4.4" fill="#c4174c" font-weight="bold" stroke="#c4174c" stroke-width="0.22" opacity="0.9" textLength="5.8" lengthAdjust="spacingAndGlyphs">SK</text>
<ellipse cx="422.70" cy="614.57" rx="5.95" ry="3.1" fill="none" stroke="#c4174c" stroke-width="0.95" opacity="0.85"/>
<text x="419.80" y="616.12" font-size="4.4" fill="#c4174c" font-weight="bold" stroke="#c4174c" stroke-width="0.22" opacity="0.9" textLength="5.8" lengthAdjust="spacingAndGlyphs">CZ</text>
<text x="331.89" y="634.94" font-size="8.2" fill="#86827d" stroke="#86827d" stroke-width="0.08" textLength="9.12" lengthAdjust="spacingAndGlyphs">30</text>
<text transform="matrix(0.7116 0 0 1 349.84 634.94)" font-size="8.4" fill="#86827d" stroke="#86827d" stroke-width="0.3">ÚT<tspan dx="1.12">/</tspan><tspan dx="1.12">UT</tspan></text>
<text x="331.98" y="652.12" font-size="8.2" fill="#86827d" stroke="#86827d" stroke-width="0.08" textLength="9.12" lengthAdjust="spacingAndGlyphs">31</text>
<text transform="matrix(0.6800 0 0 1 350.04 652.12)" font-size="8.4" fill="#86827d" stroke="#86827d" stroke-width="0.3">ST<tspan dx="1.18">/</tspan><tspan dx="1.18">ST</tspan></text>
<rect x="574.50" y="91.00" width="121.10" height="16.50" fill="#f4ece7"/>
<rect x="574.50" y="176.58" width="121.10" height="17.18" fill="#f4ece7"/>
<rect x="574.50" y="296.81" width="121.10" height="17.18" fill="#f4ece7"/>
<rect x="574.50" y="417.04" width="121.10" height="17.18" fill="#f4ece7"/>
<rect x="574.50" y="537.27" width="121.10" height="17.18" fill="#f4ece7"/>
<line x1="574.50" y1="125.05" x2="695.60" y2="125.05" stroke="#b9b5ab" stroke-width="1.4"/>
<line x1="574.50" y1="142.23" x2="695.60" y2="142.23" stroke="#b9b5ab" stroke-width="1.0"/>
<line x1="574.50" y1="159.40" x2="695.60" y2="159.40" stroke="#b9b5ab" stroke-width="1.0"/>
<line x1="574.50" y1="176.58" x2="695.60" y2="176.58" stroke="#b9b5ab" stroke-width="1.0"/>
<line x1="574.50" y1="193.75" x2="695.60" y2="193.75" stroke="#b9b5ab" stroke-width="1.0"/>
<line x1="574.50" y1="210.93" x2="695.60" y2="210.93" stroke="#b9b5ab" stroke-width="1.0"/>
<line x1="574.50" y1="228.11" x2="695.60" y2="228.11" stroke="#b9b5ab" stroke-width="1.0"/>
<line x1="574.50" y1="245.28" x2="695.60" y2="245.28" stroke="#b9b5ab" stroke-width="1.0"/>
<line x1="574.50" y1="262.46" x2="695.60" y2="262.46" stroke="#b9b5ab" stroke-width="1.0"/>
<line x1="574.50" y1="279.63" x2="695.60" y2="279.63" stroke="#b9b5ab" stroke-width="1.0"/>
<line x1="574.50" y1="296.81" x2="695.60" y2="296.81" stroke="#b9b5ab" stroke-width="1.0"/>
<line x1="574.50" y1="313.99" x2="695.60" y2="313.99" stroke="#b9b5ab" stroke-width="1.0"/>
<line x1="574.50" y1="331.16" x2="695.60" y2="331.16" stroke="#b9b5ab" stroke-width="1.0"/>
<line x1="574.50" y1="348.34" x2="695.60" y2="348.34" stroke="#b9b5ab" stroke-width="1.0"/>
<line x1="574.50" y1="365.51" x2="695.60" y2="365.51" stroke="#b9b5ab" stroke-width="1.0"/>
<line x1="574.50" y1="382.69" x2="695.60" y2="382.69" stroke="#b9b5ab" stroke-width="1.0"/>
<line x1="574.50" y1="399.87" x2="695.60" y2="399.87" stroke="#b9b5ab" stroke-width="1.0"/>
<line x1="574.50" y1="417.04" x2="695.60" y2="417.04" stroke="#b9b5ab" stroke-width="1.0"/>
<line x1="574.50" y1="434.22" x2="695.60" y2="434.22" stroke="#b9b5ab" stroke-width="1.0"/>
<line x1="574.50" y1="451.39" x2="695.60" y2="451.39" stroke="#b9b5ab" stroke-width="1.0"/>
<line x1="574.50" y1="468.57" x2="695.60" y2="468.57" stroke="#b9b5ab" stroke-width="1.0"/>
<line x1="574.50" y1="485.75" x2="695.60" y2="485.75" stroke="#b9b5ab" stroke-width="1.0"/>
<line x1="574.50" y1="502.92" x2="695.60" y2="502.92" stroke="#b9b5ab" stroke-width="1.0"/>
<line x1="574.50" y1="520.10" x2="695.60" y2="520.10" stroke="#b9b5ab" stroke-width="1.0"/>
<line x1="574.50" y1="537.27" x2="695.60" y2="537.27" stroke="#b9b5ab" stroke-width="1.0"/>
<line x1="574.50" y1="554.45" x2="695.60" y2="554.45" stroke="#b9b5ab" stroke-width="1.0"/>
<line x1="574.50" y1="571.63" x2="695.60" y2="571.63" stroke="#b9b5ab" stroke-width="1.0"/>
<line x1="574.50" y1="588.80" x2="695.60" y2="588.80" stroke="#b9b5ab" stroke-width="1.0"/>
<line x1="574.50" y1="605.98" x2="695.60" y2="605.98" stroke="#b9b5ab" stroke-width="1.0"/>
<line x1="574.50" y1="623.15" x2="695.60" y2="623.15" stroke="#b9b5ab" stroke-width="1.0"/>
<line x1="574.50" y1="640.33" x2="695.60" y2="640.33" stroke="#b9b5ab" stroke-width="1.0"/>
<line x1="574.50" y1="657.51" x2="695.60" y2="657.51" stroke="#b9b5ab" stroke-width="1.0"/>
<line x1="574.00" y1="90.50" x2="696.10" y2="90.50" stroke="#b9b5ab" stroke-width="1.0"/>
<line x1="574.50" y1="90.50" x2="574.50" y2="658.01" stroke="#b9b5ab" stroke-width="1.0"/>
<line x1="695.60" y1="90.50" x2="695.60" y2="658.01" stroke="#b9b5ab" stroke-width="1.0"/>
<line x1="591.70" y1="125.05" x2="591.70" y2="657.51" stroke="#b9b5ab" stroke-width="1.0"/>
<line x1="626.60" y1="125.05" x2="626.60" y2="657.51" stroke="#b9b5ab" stroke-width="1.0"/>
<text transform="matrix(0.7456 0 0 1 613.34 103.10)" font-size="8.3" fill="#c4174c" font-weight="bold" stroke="#c4174c" stroke-width="0.25">DUBEN<tspan dx="0.60">/</tspan><tspan dx="0.60">APRÍL</tspan></text>
<text transform="matrix(0.7559 0 0 1 600.34 119.30)" font-size="8.2" fill="#8f8b86" stroke="#8f8b86" stroke-width="0.2">April<tspan dx="0.40">/</tspan><tspan dx="0.40">April</tspan><tspan dx="0.40">/</tspan><tspan dx="0.40">Április</tspan><tspan dx="0.40">/</tspan><tspan dx="0.40">Апрель</tspan></text>
<text x="582.93" y="136.84" font-size="8.2" fill="#86827d" stroke="#86827d" stroke-width="0.08" textLength="4.56" lengthAdjust="spacingAndGlyphs">1</text>
<text transform="matrix(0.7102 0 0 1 596.40 136.84)" font-size="8.4" fill="#86827d" stroke="#86827d" stroke-width="0.3">ČT<tspan dx="1.13">/</tspan><tspan dx="1.13">ŠT</tspan></text>
<text x="582.95" y="154.01" font-size="8.2" fill="#86827d" stroke="#86827d" stroke-width="0.08" textLength="4.56" lengthAdjust="spacingAndGlyphs">2</text>
<text transform="matrix(0.7658 0 0 1 596.17 154.01)" font-size="8.4" fill="#86827d" stroke="#86827d" stroke-width="0.3">PÁ<tspan dx="1.04">/</tspan><tspan dx="1.04">PIA</tspan></text>
<text x="582.89" y="171.19" font-size="8.2" fill="#86827d" stroke="#86827d" stroke-width="0.08" textLength="4.56" lengthAdjust="spacingAndGlyphs">3</text>
<text transform="matrix(0.7356 0 0 1 596.42 171.19)" font-size="8.4" fill="#86827d" stroke="#86827d" stroke-width="0.3">SO<tspan dx="1.09">/</tspan><tspan dx="1.09">SO</tspan></text>
<text x="582.58" y="188.37" font-size="8.2" fill="#ca2256" font-weight="bold" textLength="4.56" lengthAdjust="spacingAndGlyphs">4</text>
<text transform="matrix(0.7181 0 0 1 596.30 188.37)" font-size="8.4" fill="#ca2256" font-weight="bold" stroke="#ca2256" stroke-width="0.16">NE<tspan dx="1.11">/</tspan><tspan dx="1.11">NE</tspan></text>
<text x="582.88" y="205.54" font-size="8.2" fill="#86827d" stroke="#86827d" stroke-width="0.08" textLength="4.56" lengthAdjust="spacingAndGlyphs">5</text>
<text transform="matrix(0.7367 0 0 1 596.19 205.54)" font-size="8.4" fill="#86827d" stroke="#86827d" stroke-width="0.3">PO<tspan dx="1.09">/</tspan><tspan dx="1.09">PO</tspan></text>
<text x="582.89" y="222.72" font-size="8.2" fill="#86827d" stroke="#86827d" stroke-width="0.08" textLength="4.56" lengthAdjust="spacingAndGlyphs">6</text>
<text transform="matrix(0.7116 0 0 1 596.24 222.72)" font-size="8.4" fill="#86827d" stroke="#86827d" stroke-width="0.3">ÚT<tspan dx="1.12">/</tspan><tspan dx="1.12">UT</tspan></text>
<text x="582.95" y="239.89" font-size="8.2" fill="#86827d" stroke="#86827d" stroke-width="0.08" textLength="4.56" lengthAdjust="spacingAndGlyphs">7</text>
<text transform="matrix(0.6800 0 0 1 596.44 239.89)" font-size="8.4" fill="#86827d" stroke="#86827d" stroke-width="0.3">ST<tspan dx="1.18">/</tspan><tspan dx="1.18">ST</tspan></text>
<text x="582.89" y="257.07" font-size="8.2" fill="#86827d" stroke="#86827d" stroke-width="0.08" textLength="4.56" lengthAdjust="spacingAndGlyphs">8</text>
<text transform="matrix(0.7102 0 0 1 596.40 257.07)" font-size="8.4" fill="#86827d" stroke="#86827d" stroke-width="0.3">ČT<tspan dx="1.13">/</tspan><tspan dx="1.13">ŠT</tspan></text>
<text x="582.93" y="274.25" font-size="8.2" fill="#86827d" stroke="#86827d" stroke-width="0.08" textLength="4.56" lengthAdjust="spacingAndGlyphs">9</text>
<text transform="matrix(0.7658 0 0 1 596.17 274.25)" font-size="8.4" fill="#86827d" stroke="#86827d" stroke-width="0.3">PÁ<tspan dx="1.04">/</tspan><tspan dx="1.04">PIA</tspan></text>
<text x="578.29" y="291.42" font-size="8.2" fill="#86827d" stroke="#86827d" stroke-width="0.08" textLength="9.12" lengthAdjust="spacingAndGlyphs">10</text>
<text transform="matrix(0.7356 0 0 1 596.42 291.42)" font-size="8.4" fill="#86827d" stroke="#86827d" stroke-width="0.3">SO<tspan dx="1.09">/</tspan><tspan dx="1.09">SO</tspan></text>
<text x="578.65" y="308.60" font-size="8.2" fill="#ca2256" font-weight="bold" textLength="8.67" lengthAdjust="spacingAndGlyphs">11</text>
<text transform="matrix(0.7181 0 0 1 596.30 308.60)" font-size="8.4" fill="#ca2256" font-weight="bold" stroke="#ca2256" stroke-width="0.16">NE<tspan dx="1.11">/</tspan><tspan dx="1.11">NE</tspan></text>
<text x="578.39" y="325.77" font-size="8.2" fill="#86827d" stroke="#86827d" stroke-width="0.08" textLength="9.12" lengthAdjust="spacingAndGlyphs">12</text>
<text transform="matrix(0.7367 0 0 1 596.19 325.77)" font-size="8.4" fill="#86827d" stroke="#86827d" stroke-width="0.3">PO<tspan dx="1.09">/</tspan><tspan dx="1.09">PO</tspan></text>
<text x="578.33" y="342.95" font-size="8.2" fill="#86827d" stroke="#86827d" stroke-width="0.08" textLength="9.12" lengthAdjust="spacingAndGlyphs">13</text>
<text transform="matrix(0.7116 0 0 1 596.24 342.95)" font-size="8.4" fill="#86827d" stroke="#86827d" stroke-width="0.3">ÚT<tspan dx="1.12">/</tspan><tspan dx="1.12">UT</tspan></text>
<text x="578.22" y="360.13" font-size="8.2" fill="#86827d" stroke="#86827d" stroke-width="0.08" textLength="9.12" lengthAdjust="spacingAndGlyphs">14</text>
<text transform="matrix(0.6800 0 0 1 596.44 360.13)" font-size="8.4" fill="#86827d" stroke="#86827d" stroke-width="0.3">ST<tspan dx="1.18">/</tspan><tspan dx="1.18">ST</tspan></text>
<text x="578.32" y="377.30" font-size="8.2" fill="#86827d" stroke="#86827d" stroke-width="0.08" textLength="9.12" lengthAdjust="spacingAndGlyphs">15</text>
<text transform="matrix(0.7102 0 0 1 596.40 377.30)" font-size="8.4" fill="#86827d" stroke="#86827d" stroke-width="0.3">ČT<tspan dx="1.13">/</tspan><tspan dx="1.13">ŠT</tspan></text>
<text x="578.33" y="394.48" font-size="8.2" fill="#86827d" stroke="#86827d" stroke-width="0.08" textLength="9.12" lengthAdjust="spacingAndGlyphs">16</text>
<text transform="matrix(0.7658 0 0 1 596.17 394.48)" font-size="8.4" fill="#86827d" stroke="#86827d" stroke-width="0.3">PÁ<tspan dx="1.04">/</tspan><tspan dx="1.04">PIA</tspan></text>
<text x="578.39" y="411.65" font-size="8.2" fill="#86827d" stroke="#86827d" stroke-width="0.08" textLength="9.12" lengthAdjust="spacingAndGlyphs">17</text>
<text transform="matrix(0.7356 0 0 1 596.42 411.65)" font-size="8.4" fill="#86827d" stroke="#86827d" stroke-width="0.3">SO<tspan dx="1.09">/</tspan><tspan dx="1.09">SO</tspan></text>
<text x="578.23" y="428.83" font-size="8.2" fill="#ca2256" font-weight="bold" textLength="9.12" lengthAdjust="spacingAndGlyphs">18</text>
<text transform="matrix(0.7181 0 0 1 596.30 428.83)" font-size="8.4" fill="#ca2256" font-weight="bold" stroke="#ca2256" stroke-width="0.16">NE<tspan dx="1.11">/</tspan><tspan dx="1.11">NE</tspan></text>
<text x="578.37" y="446.01" font-size="8.2" fill="#86827d" stroke="#86827d" stroke-width="0.08" textLength="9.12" lengthAdjust="spacingAndGlyphs">19</text>
<text transform="matrix(0.7367 0 0 1 596.19 446.01)" font-size="8.4" fill="#86827d" stroke="#86827d" stroke-width="0.3">PO<tspan dx="1.09">/</tspan><tspan dx="1.09">PO</tspan></text>
<text x="578.29" y="463.18" font-size="8.2" fill="#86827d" stroke="#86827d" stroke-width="0.08" textLength="9.12" lengthAdjust="spacingAndGlyphs">20</text>
<text transform="matrix(0.7116 0 0 1 596.24 463.18)" font-size="8.4" fill="#86827d" stroke="#86827d" stroke-width="0.3">ÚT<tspan dx="1.12">/</tspan><tspan dx="1.12">UT</tspan></text>
<text x="578.38" y="480.36" font-size="8.2" fill="#86827d" stroke="#86827d" stroke-width="0.08" textLength="9.12" lengthAdjust="spacingAndGlyphs">21</text>
<text transform="matrix(0.6800 0 0 1 596.44 480.36)" font-size="8.4" fill="#86827d" stroke="#86827d" stroke-width="0.3">ST<tspan dx="1.18">/</tspan><tspan dx="1.18">ST</tspan></text>
<text x="578.39" y="497.53" font-size="8.2" fill="#86827d" stroke="#86827d" stroke-width="0.08" textLength="9.12" lengthAdjust="spacingAndGlyphs">22</text>
<text transform="matrix(0.7102 0 0 1 596.40 497.53)" font-size="8.4" fill="#86827d" stroke="#86827d" stroke-width="0.3">ČT<tspan dx="1.13">/</tspan><tspan dx="1.13">ŠT</tspan></text>
<text x="578.33" y="514.71" font-size="8.2" fill="#86827d" stroke="#86827d" stroke-width="0.08" textLength="9.12" lengthAdjust="spacingAndGlyphs">23</text>
<text transform="matrix(0.7658 0 0 1 596.17 514.71)" font-size="8.4" fill="#86827d" stroke="#86827d" stroke-width="0.3">PÁ<tspan dx="1.04">/</tspan><tspan dx="1.04">PIA</tspan></text>
<text x="578.22" y="531.89" font-size="8.2" fill="#86827d" stroke="#86827d" stroke-width="0.08" textLength="9.12" lengthAdjust="spacingAndGlyphs">24</text>
<text transform="matrix(0.7356 0 0 1 596.42 531.89)" font-size="8.4" fill="#86827d" stroke="#86827d" stroke-width="0.3">SO<tspan dx="1.09">/</tspan><tspan dx="1.09">SO</tspan></text>
<text x="578.20" y="549.06" font-size="8.2" fill="#ca2256" font-weight="bold" textLength="9.12" lengthAdjust="spacingAndGlyphs">25</text>
<text transform="matrix(0.7181 0 0 1 596.30 549.06)" font-size="8.4" fill="#ca2256" font-weight="bold" stroke="#ca2256" stroke-width="0.16">NE<tspan dx="1.11">/</tspan><tspan dx="1.11">NE</tspan></text>
<text x="578.33" y="566.24" font-size="8.2" fill="#86827d" stroke="#86827d" stroke-width="0.08" textLength="9.12" lengthAdjust="spacingAndGlyphs">26</text>
<text transform="matrix(0.7367 0 0 1 596.19 566.24)" font-size="8.4" fill="#86827d" stroke="#86827d" stroke-width="0.3">PO<tspan dx="1.09">/</tspan><tspan dx="1.09">PO</tspan></text>
<text x="578.39" y="583.41" font-size="8.2" fill="#86827d" stroke="#86827d" stroke-width="0.08" textLength="9.12" lengthAdjust="spacingAndGlyphs">27</text>
<text transform="matrix(0.7116 0 0 1 596.24 583.41)" font-size="8.4" fill="#86827d" stroke="#86827d" stroke-width="0.3">ÚT<tspan dx="1.12">/</tspan><tspan dx="1.12">UT</tspan></text>
<text x="578.33" y="600.59" font-size="8.2" fill="#86827d" stroke="#86827d" stroke-width="0.08" textLength="9.12" lengthAdjust="spacingAndGlyphs">28</text>
<text transform="matrix(0.6800 0 0 1 596.44 600.59)" font-size="8.4" fill="#86827d" stroke="#86827d" stroke-width="0.3">ST<tspan dx="1.18">/</tspan><tspan dx="1.18">ST</tspan></text>
<text x="578.37" y="617.77" font-size="8.2" fill="#86827d" stroke="#86827d" stroke-width="0.08" textLength="9.12" lengthAdjust="spacingAndGlyphs">29</text>
<text transform="matrix(0.7102 0 0 1 596.40 617.77)" font-size="8.4" fill="#86827d" stroke="#86827d" stroke-width="0.3">ČT<tspan dx="1.13">/</tspan><tspan dx="1.13">ŠT</tspan></text>
<text x="578.29" y="634.94" font-size="8.2" fill="#86827d" stroke="#86827d" stroke-width="0.08" textLength="9.12" lengthAdjust="spacingAndGlyphs">30</text>
<text transform="matrix(0.7658 0 0 1 596.17 634.94)" font-size="8.4" fill="#86827d" stroke="#86827d" stroke-width="0.3">PÁ<tspan dx="1.04">/</tspan><tspan dx="1.04">PIA</tspan></text>
<rect x="707.70" y="91.00" width="120.90" height="16.50" fill="#f4ece7"/>
<rect x="707.70" y="142.23" width="120.90" height="17.18" fill="#f4ece7"/>
<rect x="707.70" y="262.46" width="120.90" height="17.18" fill="#f4ece7"/>
<rect x="707.70" y="382.69" width="120.90" height="17.18" fill="#f4ece7"/>
<rect x="707.70" y="502.92" width="120.90" height="17.18" fill="#f4ece7"/>
<rect x="707.70" y="623.15" width="120.90" height="17.18" fill="#f4ece7"/>
<line x1="707.70" y1="125.05" x2="828.60" y2="125.05" stroke="#b9b5ab" stroke-width="1.4"/>
<line x1="707.70" y1="142.23" x2="828.60" y2="142.23" stroke="#b9b5ab" stroke-width="1.0"/>
<line x1="707.70" y1="159.40" x2="828.60" y2="159.40" stroke="#b9b5ab" stroke-width="1.0"/>
<line x1="707.70" y1="176.58" x2="828.60" y2="176.58" stroke="#b9b5ab" stroke-width="1.0"/>
<line x1="707.70" y1="193.75" x2="828.60" y2="193.75" stroke="#b9b5ab" stroke-width="1.0"/>
<line x1="707.70" y1="210.93" x2="828.60" y2="210.93" stroke="#b9b5ab" stroke-width="1.0"/>
<line x1="707.70" y1="228.11" x2="828.60" y2="228.11" stroke="#b9b5ab" stroke-width="1.0"/>
<line x1="707.70" y1="245.28" x2="828.60" y2="245.28" stroke="#b9b5ab" stroke-width="1.0"/>
<line x1="707.70" y1="262.46" x2="828.60" y2="262.46" stroke="#b9b5ab" stroke-width="1.0"/>
<line x1="707.70" y1="279.63" x2="828.60" y2="279.63" stroke="#b9b5ab" stroke-width="1.0"/>
<line x1="707.70" y1="296.81" x2="828.60" y2="296.81" stroke="#b9b5ab" stroke-width="1.0"/>
<line x1="707.70" y1="313.99" x2="828.60" y2="313.99" stroke="#b9b5ab" stroke-width="1.0"/>
<line x1="707.70" y1="331.16" x2="828.60" y2="331.16" stroke="#b9b5ab" stroke-width="1.0"/>
<line x1="707.70" y1="348.34" x2="828.60" y2="348.34" stroke="#b9b5ab" stroke-width="1.0"/>
<line x1="707.70" y1="365.51" x2="828.60" y2="365.51" stroke="#b9b5ab" stroke-width="1.0"/>
<line x1="707.70" y1="382.69" x2="828.60" y2="382.69" stroke="#b9b5ab" stroke-width="1.0"/>
<line x1="707.70" y1="399.87" x2="828.60" y2="399.87" stroke="#b9b5ab" stroke-width="1.0"/>
<line x1="707.70" y1="417.04" x2="828.60" y2="417.04" stroke="#b9b5ab" stroke-width="1.0"/>
<line x1="707.70" y1="434.22" x2="828.60" y2="434.22" stroke="#b9b5ab" stroke-width="1.0"/>
<line x1="707.70" y1="451.39" x2="828.60" y2="451.39" stroke="#b9b5ab" stroke-width="1.0"/>
<line x1="707.70" y1="468.57" x2="828.60" y2="468.57" stroke="#b9b5ab" stroke-width="1.0"/>
<line x1="707.70" y1="485.75" x2="828.60" y2="485.75" stroke="#b9b5ab" stroke-width="1.0"/>
<line x1="707.70" y1="502.92" x2="828.60" y2="502.92" stroke="#b9b5ab" stroke-width="1.0"/>
<line x1="707.70" y1="520.10" x2="828.60" y2="520.10" stroke="#b9b5ab" stroke-width="1.0"/>
<line x1="707.70" y1="537.27" x2="828.60" y2="537.27" stroke="#b9b5ab" stroke-width="1.0"/>
<line x1="707.70" y1="554.45" x2="828.60" y2="554.45" stroke="#b9b5ab" stroke-width="1.0"/>
<line x1="707.70" y1="571.63" x2="828.60" y2="571.63" stroke="#b9b5ab" stroke-width="1.0"/>
<line x1="707.70" y1="588.80" x2="828.60" y2="588.80" stroke="#b9b5ab" stroke-width="1.0"/>
<line x1="707.70" y1="605.98" x2="828.60" y2="605.98" stroke="#b9b5ab" stroke-width="1.0"/>
<line x1="707.70" y1="623.15" x2="828.60" y2="623.15" stroke="#b9b5ab" stroke-width="1.0"/>
<line x1="707.70" y1="640.33" x2="828.60" y2="640.33" stroke="#b9b5ab" stroke-width="1.0"/>
<line x1="707.70" y1="657.51" x2="828.60" y2="657.51" stroke="#b9b5ab" stroke-width="1.0"/>
<line x1="707.20" y1="90.50" x2="829.10" y2="90.50" stroke="#b9b5ab" stroke-width="1.0"/>
<line x1="707.70" y1="90.50" x2="707.70" y2="658.01" stroke="#b9b5ab" stroke-width="1.0"/>
<line x1="828.60" y1="90.50" x2="828.60" y2="658.01" stroke="#b9b5ab" stroke-width="1.0"/>
<line x1="724.90" y1="125.05" x2="724.90" y2="657.51" stroke="#b9b5ab" stroke-width="1.0"/>
<line x1="759.80" y1="125.05" x2="759.80" y2="657.51" stroke="#b9b5ab" stroke-width="1.0"/>
<text transform="matrix(0.7445 0 0 1 747.79 103.10)" font-size="8.3" fill="#c4174c" font-weight="bold" stroke="#c4174c" stroke-width="0.25">KVĚTEN<tspan dx="0.60">/</tspan><tspan dx="0.60">MÁJ</tspan></text>
<text transform="matrix(0.8056 0 0 1 737.61 119.30)" font-size="8.2" fill="#8f8b86" stroke="#8f8b86" stroke-width="0.2">May<tspan dx="0.37">/</tspan><tspan dx="0.37">Mai</tspan><tspan dx="0.37">/</tspan><tspan dx="0.37">Május</tspan><tspan dx="0.37">/</tspan><tspan dx="0.37">Май</tspan></text>
<text x="716.13" y="136.84" font-size="8.2" fill="#86827d" stroke="#86827d" stroke-width="0.08" textLength="4.56" lengthAdjust="spacingAndGlyphs">1</text>
<text transform="matrix(0.7356 0 0 1 729.62 136.84)" font-size="8.4" fill="#86827d" stroke="#86827d" stroke-width="0.3">SO<tspan dx="1.09">/</tspan><tspan dx="1.09">SO</tspan></text>
<ellipse cx="815.80" cy="133.64" rx="5.95" ry="3.1" fill="none" stroke="#c4174c" stroke-width="0.95" opacity="0.85"/>
<text x="812.90" y="135.19" font-size="4.4" fill="#c4174c" font-weight="bold" stroke="#c4174c" stroke-width="0.22" opacity="0.9" textLength="5.8" lengthAdjust="spacingAndGlyphs">SK</text>
<ellipse cx="801.80" cy="133.64" rx="5.95" ry="3.1" fill="none" stroke="#c4174c" stroke-width="0.95" opacity="0.85"/>
<text x="798.90" y="135.19" font-size="4.4" fill="#c4174c" font-weight="bold" stroke="#c4174c" stroke-width="0.22" opacity="0.9" textLength="5.8" lengthAdjust="spacingAndGlyphs">CZ</text>
<text x="716.06" y="154.01" font-size="8.2" fill="#ca2256" font-weight="bold" textLength="4.56" lengthAdjust="spacingAndGlyphs">2</text>
<text transform="matrix(0.7181 0 0 1 729.50 154.01)" font-size="8.4" fill="#ca2256" font-weight="bold" stroke="#ca2256" stroke-width="0.16">NE<tspan dx="1.11">/</tspan><tspan dx="1.11">NE</tspan></text>
<text x="716.09" y="171.19" font-size="8.2" fill="#86827d" stroke="#86827d" stroke-width="0.08" textLength="4.56" lengthAdjust="spacingAndGlyphs">3</text>
<text transform="matrix(0.7367 0 0 1 729.39 171.19)" font-size="8.4" fill="#86827d" stroke="#86827d" stroke-width="0.3">PO<tspan dx="1.09">/</tspan><tspan dx="1.09">PO</tspan></text>
<text x="715.98" y="188.37" font-size="8.2" fill="#86827d" stroke="#86827d" stroke-width="0.08" textLength="4.56" lengthAdjust="spacingAndGlyphs">4</text>
<text transform="matrix(0.7116 0 0 1 729.44 188.37)" font-size="8.4" fill="#86827d" stroke="#86827d" stroke-width="0.3">ÚT<tspan dx="1.12">/</tspan><tspan dx="1.12">UT</tspan></text>
<text x="716.08" y="205.54" font-size="8.2" fill="#86827d" stroke="#86827d" stroke-width="0.08" textLength="4.56" lengthAdjust="spacingAndGlyphs">5</text>
<text transform="matrix(0.6800 0 0 1 729.64 205.54)" font-size="8.4" fill="#86827d" stroke="#86827d" stroke-width="0.3">ST<tspan dx="1.18">/</tspan><tspan dx="1.18">ST</tspan></text>
<text x="716.09" y="222.72" font-size="8.2" fill="#86827d" stroke="#86827d" stroke-width="0.08" textLength="4.56" lengthAdjust="spacingAndGlyphs">6</text>
<text transform="matrix(0.7102 0 0 1 729.60 222.72)" font-size="8.4" fill="#86827d" stroke="#86827d" stroke-width="0.3">ČT<tspan dx="1.13">/</tspan><tspan dx="1.13">ŠT</tspan></text>
<text x="716.15" y="239.89" font-size="8.2" fill="#86827d" stroke="#86827d" stroke-width="0.08" textLength="4.56" lengthAdjust="spacingAndGlyphs">7</text>
<text transform="matrix(0.7658 0 0 1 729.37 239.89)" font-size="8.4" fill="#86827d" stroke="#86827d" stroke-width="0.3">PÁ<tspan dx="1.04">/</tspan><tspan dx="1.04">PIA</tspan></text>
<text x="716.09" y="257.07" font-size="8.2" fill="#86827d" stroke="#86827d" stroke-width="0.08" textLength="4.56" lengthAdjust="spacingAndGlyphs">8</text>
<text transform="matrix(0.7356 0 0 1 729.62 257.07)" font-size="8.4" fill="#86827d" stroke="#86827d" stroke-width="0.3">SO<tspan dx="1.09">/</tspan><tspan dx="1.09">SO</tspan></text>
<ellipse cx="815.80" cy="253.87" rx="5.95" ry="3.1" fill="none" stroke="#c4174c" stroke-width="0.95" opacity="0.85"/>
<text x="812.90" y="255.42" font-size="4.4" fill="#c4174c" font-weight="bold" stroke="#c4174c" stroke-width="0.22" opacity="0.9" textLength="5.8" lengthAdjust="spacingAndGlyphs">SK</text>
<ellipse cx="801.80" cy="253.87" rx="5.95" ry="3.1" fill="none" stroke="#c4174c" stroke-width="0.95" opacity="0.85"/>
<text x="798.90" y="255.42" font-size="4.4" fill="#c4174c" font-weight="bold" stroke="#c4174c" stroke-width="0.22" opacity="0.9" textLength="5.8" lengthAdjust="spacingAndGlyphs">CZ</text>
<text x="716.04" y="274.25" font-size="8.2" fill="#ca2256" font-weight="bold" textLength="4.56" lengthAdjust="spacingAndGlyphs">9</text>
<text transform="matrix(0.7181 0 0 1 729.50 274.25)" font-size="8.4" fill="#ca2256" font-weight="bold" stroke="#ca2256" stroke-width="0.16">NE<tspan dx="1.11">/</tspan><tspan dx="1.11">NE</tspan></text>
<text x="711.49" y="291.42" font-size="8.2" fill="#86827d" stroke="#86827d" stroke-width="0.08" textLength="9.12" lengthAdjust="spacingAndGlyphs">10</text>
<text transform="matrix(0.7367 0 0 1 729.39 291.42)" font-size="8.4" fill="#86827d" stroke="#86827d" stroke-width="0.3">PO<tspan dx="1.09">/</tspan><tspan dx="1.09">PO</tspan></text>
<text x="712.18" y="308.60" font-size="8.2" fill="#86827d" stroke="#86827d" stroke-width="0.08" textLength="8.51" lengthAdjust="spacingAndGlyphs">11</text>
<text transform="matrix(0.7116 0 0 1 729.44 308.60)" font-size="8.4" fill="#86827d" stroke="#86827d" stroke-width="0.3">ÚT<tspan dx="1.12">/</tspan><tspan dx="1.12">UT</tspan></text>
<text x="711.59" y="325.77" font-size="8.2" fill="#86827d" stroke="#86827d" stroke-width="0.08" textLength="9.12" lengthAdjust="spacingAndGlyphs">12</text>
<text transform="matrix(0.6800 0 0 1 729.64 325.77)" font-size="8.4" fill="#86827d" stroke="#86827d" stroke-width="0.3">ST<tspan dx="1.18">/</tspan><tspan dx="1.18">ST</tspan></text>
<text x="711.53" y="342.95" font-size="8.2" fill="#86827d" stroke="#86827d" stroke-width="0.08" textLength="9.12" lengthAdjust="spacingAndGlyphs">13</text>
<text transform="matrix(0.7102 0 0 1 729.60 342.95)" font-size="8.4" fill="#86827d" stroke="#86827d" stroke-width="0.3">ČT<tspan dx="1.13">/</tspan><tspan dx="1.13">ŠT</tspan></text>
<text x="711.42" y="360.13" font-size="8.2" fill="#86827d" stroke="#86827d" stroke-width="0.08" textLength="9.12" lengthAdjust="spacingAndGlyphs">14</text>
<text transform="matrix(0.7658 0 0 1 729.37 360.13)" font-size="8.4" fill="#86827d" stroke="#86827d" stroke-width="0.3">PÁ<tspan dx="1.04">/</tspan><tspan dx="1.04">PIA</tspan></text>
<text x="711.52" y="377.30" font-size="8.2" fill="#86827d" stroke="#86827d" stroke-width="0.08" textLength="9.12" lengthAdjust="spacingAndGlyphs">15</text>
<text transform="matrix(0.7356 0 0 1 729.62 377.30)" font-size="8.4" fill="#86827d" stroke="#86827d" stroke-width="0.3">SO<tspan dx="1.09">/</tspan><tspan dx="1.09">SO</tspan></text>
<text x="711.47" y="394.48" font-size="8.2" fill="#ca2256" font-weight="bold" textLength="9.12" lengthAdjust="spacingAndGlyphs">16</text>
<text transform="matrix(0.7181 0 0 1 729.50 394.48)" font-size="8.4" fill="#ca2256" font-weight="bold" stroke="#ca2256" stroke-width="0.16">NE<tspan dx="1.11">/</tspan><tspan dx="1.11">NE</tspan></text>
<text x="711.59" y="411.65" font-size="8.2" fill="#86827d" stroke="#86827d" stroke-width="0.08" textLength="9.12" lengthAdjust="spacingAndGlyphs">17</text>
<text transform="matrix(0.7367 0 0 1 729.39 411.65)" font-size="8.4" fill="#86827d" stroke="#86827d" stroke-width="0.3">PO<tspan dx="1.09">/</tspan><tspan dx="1.09">PO</tspan></text>
<text x="711.53" y="428.83" font-size="8.2" fill="#86827d" stroke="#86827d" stroke-width="0.08" textLength="9.12" lengthAdjust="spacingAndGlyphs">18</text>
<text transform="matrix(0.7116 0 0 1 729.44 428.83)" font-size="8.4" fill="#86827d" stroke="#86827d" stroke-width="0.3">ÚT<tspan dx="1.12">/</tspan><tspan dx="1.12">UT</tspan></text>
<text x="711.57" y="446.01" font-size="8.2" fill="#86827d" stroke="#86827d" stroke-width="0.08" textLength="9.12" lengthAdjust="spacingAndGlyphs">19</text>
<text transform="matrix(0.6800 0 0 1 729.64 446.01)" font-size="8.4" fill="#86827d" stroke="#86827d" stroke-width="0.3">ST<tspan dx="1.18">/</tspan><tspan dx="1.18">ST</tspan></text>
<text x="711.49" y="463.18" font-size="8.2" fill="#86827d" stroke="#86827d" stroke-width="0.08" textLength="9.12" lengthAdjust="spacingAndGlyphs">20</text>
<text transform="matrix(0.7102 0 0 1 729.60 463.18)" font-size="8.4" fill="#86827d" stroke="#86827d" stroke-width="0.3">ČT<tspan dx="1.13">/</tspan><tspan dx="1.13">ŠT</tspan></text>
<text x="711.58" y="480.36" font-size="8.2" fill="#86827d" stroke="#86827d" stroke-width="0.08" textLength="9.12" lengthAdjust="spacingAndGlyphs">21</text>
<text transform="matrix(0.7658 0 0 1 729.37 480.36)" font-size="8.4" fill="#86827d" stroke="#86827d" stroke-width="0.3">PÁ<tspan dx="1.04">/</tspan><tspan dx="1.04">PIA</tspan></text>
<text x="711.59" y="497.53" font-size="8.2" fill="#86827d" stroke="#86827d" stroke-width="0.08" textLength="9.12" lengthAdjust="spacingAndGlyphs">22</text>
<text transform="matrix(0.7356 0 0 1 729.62 497.53)" font-size="8.4" fill="#86827d" stroke="#86827d" stroke-width="0.3">SO<tspan dx="1.09">/</tspan><tspan dx="1.09">SO</tspan></text>
<text x="711.47" y="514.71" font-size="8.2" fill="#ca2256" font-weight="bold" textLength="9.12" lengthAdjust="spacingAndGlyphs">23</text>
<text transform="matrix(0.7181 0 0 1 729.50 514.71)" font-size="8.4" fill="#ca2256" font-weight="bold" stroke="#ca2256" stroke-width="0.16">NE<tspan dx="1.11">/</tspan><tspan dx="1.11">NE</tspan></text>
<text x="711.42" y="531.89" font-size="8.2" fill="#86827d" stroke="#86827d" stroke-width="0.08" textLength="9.12" lengthAdjust="spacingAndGlyphs">24</text>
<text transform="matrix(0.7367 0 0 1 729.39 531.89)" font-size="8.4" fill="#86827d" stroke="#86827d" stroke-width="0.3">PO<tspan dx="1.09">/</tspan><tspan dx="1.09">PO</tspan></text>
<text x="711.52" y="549.06" font-size="8.2" fill="#86827d" stroke="#86827d" stroke-width="0.08" textLength="9.12" lengthAdjust="spacingAndGlyphs">25</text>
<text transform="matrix(0.7116 0 0 1 729.44 549.06)" font-size="8.4" fill="#86827d" stroke="#86827d" stroke-width="0.3">ÚT<tspan dx="1.12">/</tspan><tspan dx="1.12">UT</tspan></text>
<text x="711.53" y="566.24" font-size="8.2" fill="#86827d" stroke="#86827d" stroke-width="0.08" textLength="9.12" lengthAdjust="spacingAndGlyphs">26</text>
<text transform="matrix(0.6800 0 0 1 729.64 566.24)" font-size="8.4" fill="#86827d" stroke="#86827d" stroke-width="0.3">ST<tspan dx="1.18">/</tspan><tspan dx="1.18">ST</tspan></text>
<text x="711.59" y="583.41" font-size="8.2" fill="#86827d" stroke="#86827d" stroke-width="0.08" textLength="9.12" lengthAdjust="spacingAndGlyphs">27</text>
<text transform="matrix(0.7102 0 0 1 729.60 583.41)" font-size="8.4" fill="#86827d" stroke="#86827d" stroke-width="0.3">ČT<tspan dx="1.13">/</tspan><tspan dx="1.13">ŠT</tspan></text>
<text x="711.53" y="600.59" font-size="8.2" fill="#86827d" stroke="#86827d" stroke-width="0.08" textLength="9.12" lengthAdjust="spacingAndGlyphs">28</text>
<text transform="matrix(0.7658 0 0 1 729.37 600.59)" font-size="8.4" fill="#86827d" stroke="#86827d" stroke-width="0.3">PÁ<tspan dx="1.04">/</tspan><tspan dx="1.04">PIA</tspan></text>
<text x="711.57" y="617.77" font-size="8.2" fill="#86827d" stroke="#86827d" stroke-width="0.08" textLength="9.12" lengthAdjust="spacingAndGlyphs">29</text>
<text transform="matrix(0.7356 0 0 1 729.62 617.77)" font-size="8.4" fill="#86827d" stroke="#86827d" stroke-width="0.3">SO<tspan dx="1.09">/</tspan><tspan dx="1.09">SO</tspan></text>
<text x="711.51" y="634.94" font-size="8.2" fill="#ca2256" font-weight="bold" textLength="9.12" lengthAdjust="spacingAndGlyphs">30</text>
<text transform="matrix(0.7181 0 0 1 729.50 634.94)" font-size="8.4" fill="#ca2256" font-weight="bold" stroke="#ca2256" stroke-width="0.16">NE<tspan dx="1.11">/</tspan><tspan dx="1.11">NE</tspan></text>
<text x="711.58" y="652.12" font-size="8.2" fill="#86827d" stroke="#86827d" stroke-width="0.08" textLength="9.12" lengthAdjust="spacingAndGlyphs">31</text>
<text transform="matrix(0.7367 0 0 1 729.39 652.12)" font-size="8.4" fill="#86827d" stroke="#86827d" stroke-width="0.3">PO<tspan dx="1.09">/</tspan><tspan dx="1.09">PO</tspan></text>
<rect x="840.50" y="91.00" width="120.90" height="16.50" fill="#f4ece7"/>
<rect x="840.50" y="210.93" width="120.90" height="17.18" fill="#f4ece7"/>
<rect x="840.50" y="331.16" width="120.90" height="17.18" fill="#f4ece7"/>
<rect x="840.50" y="451.39" width="120.90" height="17.18" fill="#f4ece7"/>
<rect x="840.50" y="571.63" width="120.90" height="17.18" fill="#f4ece7"/>
<line x1="840.50" y1="125.05" x2="961.40" y2="125.05" stroke="#b9b5ab" stroke-width="1.4"/>
<line x1="840.50" y1="142.23" x2="961.40" y2="142.23" stroke="#b9b5ab" stroke-width="1.0"/>
<line x1="840.50" y1="159.40" x2="961.40" y2="159.40" stroke="#b9b5ab" stroke-width="1.0"/>
<line x1="840.50" y1="176.58" x2="961.40" y2="176.58" stroke="#b9b5ab" stroke-width="1.0"/>
<line x1="840.50" y1="193.75" x2="961.40" y2="193.75" stroke="#b9b5ab" stroke-width="1.0"/>
<line x1="840.50" y1="210.93" x2="961.40" y2="210.93" stroke="#b9b5ab" stroke-width="1.0"/>
<line x1="840.50" y1="228.11" x2="961.40" y2="228.11" stroke="#b9b5ab" stroke-width="1.0"/>
<line x1="840.50" y1="245.28" x2="961.40" y2="245.28" stroke="#b9b5ab" stroke-width="1.0"/>
<line x1="840.50" y1="262.46" x2="961.40" y2="262.46" stroke="#b9b5ab" stroke-width="1.0"/>
<line x1="840.50" y1="279.63" x2="961.40" y2="279.63" stroke="#b9b5ab" stroke-width="1.0"/>
<line x1="840.50" y1="296.81" x2="961.40" y2="296.81" stroke="#b9b5ab" stroke-width="1.0"/>
<line x1="840.50" y1="313.99" x2="961.40" y2="313.99" stroke="#b9b5ab" stroke-width="1.0"/>
<line x1="840.50" y1="331.16" x2="961.40" y2="331.16" stroke="#b9b5ab" stroke-width="1.0"/>
<line x1="840.50" y1="348.34" x2="961.40" y2="348.34" stroke="#b9b5ab" stroke-width="1.0"/>
<line x1="840.50" y1="365.51" x2="961.40" y2="365.51" stroke="#b9b5ab" stroke-width="1.0"/>
<line x1="840.50" y1="382.69" x2="961.40" y2="382.69" stroke="#b9b5ab" stroke-width="1.0"/>
<line x1="840.50" y1="399.87" x2="961.40" y2="399.87" stroke="#b9b5ab" stroke-width="1.0"/>
<line x1="840.50" y1="417.04" x2="961.40" y2="417.04" stroke="#b9b5ab" stroke-width="1.0"/>
<line x1="840.50" y1="434.22" x2="961.40" y2="434.22" stroke="#b9b5ab" stroke-width="1.0"/>
<line x1="840.50" y1="451.39" x2="961.40" y2="451.39" stroke="#b9b5ab" stroke-width="1.0"/>
<line x1="840.50" y1="468.57" x2="961.40" y2="468.57" stroke="#b9b5ab" stroke-width="1.0"/>
<line x1="840.50" y1="485.75" x2="961.40" y2="485.75" stroke="#b9b5ab" stroke-width="1.0"/>
<line x1="840.50" y1="502.92" x2="961.40" y2="502.92" stroke="#b9b5ab" stroke-width="1.0"/>
<line x1="840.50" y1="520.10" x2="961.40" y2="520.10" stroke="#b9b5ab" stroke-width="1.0"/>
<line x1="840.50" y1="537.27" x2="961.40" y2="537.27" stroke="#b9b5ab" stroke-width="1.0"/>
<line x1="840.50" y1="554.45" x2="961.40" y2="554.45" stroke="#b9b5ab" stroke-width="1.0"/>
<line x1="840.50" y1="571.63" x2="961.40" y2="571.63" stroke="#b9b5ab" stroke-width="1.0"/>
<line x1="840.50" y1="588.80" x2="961.40" y2="588.80" stroke="#b9b5ab" stroke-width="1.0"/>
<line x1="840.50" y1="605.98" x2="961.40" y2="605.98" stroke="#b9b5ab" stroke-width="1.0"/>
<line x1="840.50" y1="623.15" x2="961.40" y2="623.15" stroke="#b9b5ab" stroke-width="1.0"/>
<line x1="840.50" y1="640.33" x2="961.40" y2="640.33" stroke="#b9b5ab" stroke-width="1.0"/>
<line x1="840.50" y1="657.51" x2="961.40" y2="657.51" stroke="#b9b5ab" stroke-width="1.0"/>
<line x1="840.00" y1="90.50" x2="961.90" y2="90.50" stroke="#b9b5ab" stroke-width="1.0"/>
<line x1="840.50" y1="90.50" x2="840.50" y2="658.01" stroke="#b9b5ab" stroke-width="1.0"/>
<line x1="961.40" y1="90.50" x2="961.40" y2="658.01" stroke="#b9b5ab" stroke-width="1.0"/>
<line x1="857.70" y1="125.05" x2="857.70" y2="657.51" stroke="#b9b5ab" stroke-width="1.0"/>
<line x1="892.60" y1="125.05" x2="892.60" y2="657.51" stroke="#b9b5ab" stroke-width="1.0"/>
<text transform="matrix(0.7339 0 0 1 881.00 103.10)" font-size="8.3" fill="#c4174c" font-weight="bold" stroke="#c4174c" stroke-width="0.25">ČERVEN<tspan dx="0.61">/</tspan><tspan dx="0.61">JÚN</tspan></text>
<text transform="matrix(0.7141 0 0 1 870.06 119.30)" font-size="8.2" fill="#8f8b86" stroke="#8f8b86" stroke-width="0.2">June<tspan dx="0.42">/</tspan><tspan dx="0.42">Juni</tspan><tspan dx="0.42">/</tspan><tspan dx="0.42">Június</tspan><tspan dx="0.42">/</tspan><tspan dx="0.42">Июнь</tspan></text>
<text x="848.93" y="136.84" font-size="8.2" fill="#86827d" stroke="#86827d" stroke-width="0.08" textLength="4.56" lengthAdjust="spacingAndGlyphs">1</text>
<text transform="matrix(0.7116 0 0 1 862.24 136.84)" font-size="8.4" fill="#86827d" stroke="#86827d" stroke-width="0.3">ÚT<tspan dx="1.12">/</tspan><tspan dx="1.12">UT</tspan></text>
<text x="848.95" y="154.01" font-size="8.2" fill="#86827d" stroke="#86827d" stroke-width="0.08" textLength="4.56" lengthAdjust="spacingAndGlyphs">2</text>
<text transform="matrix(0.6800 0 0 1 862.44 154.01)" font-size="8.4" fill="#86827d" stroke="#86827d" stroke-width="0.3">ST<tspan dx="1.18">/</tspan><tspan dx="1.18">ST</tspan></text>
<text x="848.89" y="171.19" font-size="8.2" fill="#86827d" stroke="#86827d" stroke-width="0.08" textLength="4.56" lengthAdjust="spacingAndGlyphs">3</text>
<text transform="matrix(0.7102 0 0 1 862.40 171.19)" font-size="8.4" fill="#86827d" stroke="#86827d" stroke-width="0.3">ČT<tspan dx="1.13">/</tspan><tspan dx="1.13">ŠT</tspan></text>
<text x="848.78" y="188.37" font-size="8.2" fill="#86827d" stroke="#86827d" stroke-width="0.08" textLength="4.56" lengthAdjust="spacingAndGlyphs">4</text>
<text transform="matrix(0.7658 0 0 1 862.17 188.37)" font-size="8.4" fill="#86827d" stroke="#86827d" stroke-width="0.3">PÁ<tspan dx="1.04">/</tspan><tspan dx="1.04">PIA</tspan></text>
<text x="848.88" y="205.54" font-size="8.2" fill="#86827d" stroke="#86827d" stroke-width="0.08" textLength="4.56" lengthAdjust="spacingAndGlyphs">5</text>
<text transform="matrix(0.7356 0 0 1 862.42 205.54)" font-size="8.4" fill="#86827d" stroke="#86827d" stroke-width="0.3">SO<tspan dx="1.09">/</tspan><tspan dx="1.09">SO</tspan></text>
<text x="848.83" y="222.72" font-size="8.2" fill="#ca2256" font-weight="bold" textLength="4.56" lengthAdjust="spacingAndGlyphs">6</text>
<text transform="matrix(0.7181 0 0 1 862.30 222.72)" font-size="8.4" fill="#ca2256" font-weight="bold" stroke="#ca2256" stroke-width="0.16">NE<tspan dx="1.11">/</tspan><tspan dx="1.11">NE</tspan></text>
<text x="848.95" y="239.89" font-size="8.2" fill="#86827d" stroke="#86827d" stroke-width="0.08" textLength="4.56" lengthAdjust="spacingAndGlyphs">7</text>
<text transform="matrix(0.7367 0 0 1 862.19 239.89)" font-size="8.4" fill="#86827d" stroke="#86827d" stroke-width="0.3">PO<tspan dx="1.09">/</tspan><tspan dx="1.09">PO</tspan></text>
<text x="848.89" y="257.07" font-size="8.2" fill="#86827d" stroke="#86827d" stroke-width="0.08" textLength="4.56" lengthAdjust="spacingAndGlyphs">8</text>
<text transform="matrix(0.7116 0 0 1 862.24 257.07)" font-size="8.4" fill="#86827d" stroke="#86827d" stroke-width="0.3">ÚT<tspan dx="1.12">/</tspan><tspan dx="1.12">UT</tspan></text>
<text x="848.93" y="274.25" font-size="8.2" fill="#86827d" stroke="#86827d" stroke-width="0.08" textLength="4.56" lengthAdjust="spacingAndGlyphs">9</text>
<text transform="matrix(0.6800 0 0 1 862.44 274.25)" font-size="8.4" fill="#86827d" stroke="#86827d" stroke-width="0.3">ST<tspan dx="1.18">/</tspan><tspan dx="1.18">ST</tspan></text>
<text x="844.29" y="291.42" font-size="8.2" fill="#86827d" stroke="#86827d" stroke-width="0.08" textLength="9.12" lengthAdjust="spacingAndGlyphs">10</text>
<text transform="matrix(0.7102 0 0 1 862.40 291.42)" font-size="8.4" fill="#86827d" stroke="#86827d" stroke-width="0.3">ČT<tspan dx="1.13">/</tspan><tspan dx="1.13">ŠT</tspan></text>
<text x="844.98" y="308.60" font-size="8.2" fill="#86827d" stroke="#86827d" stroke-width="0.08" textLength="8.51" lengthAdjust="spacingAndGlyphs">11</text>
<text transform="matrix(0.7658 0 0 1 862.17 308.60)" font-size="8.4" fill="#86827d" stroke="#86827d" stroke-width="0.3">PÁ<tspan dx="1.04">/</tspan><tspan dx="1.04">PIA</tspan></text>
<text x="844.39" y="325.77" font-size="8.2" fill="#86827d" stroke="#86827d" stroke-width="0.08" textLength="9.12" lengthAdjust="spacingAndGlyphs">12</text>
<text transform="matrix(0.7356 0 0 1 862.42 325.77)" font-size="8.4" fill="#86827d" stroke="#86827d" stroke-width="0.3">SO<tspan dx="1.09">/</tspan><tspan dx="1.09">SO</tspan></text>
<text x="844.27" y="342.95" font-size="8.2" fill="#ca2256" font-weight="bold" textLength="9.12" lengthAdjust="spacingAndGlyphs">13</text>
<text transform="matrix(0.7181 0 0 1 862.30 342.95)" font-size="8.4" fill="#ca2256" font-weight="bold" stroke="#ca2256" stroke-width="0.16">NE<tspan dx="1.11">/</tspan><tspan dx="1.11">NE</tspan></text>
<text x="844.22" y="360.13" font-size="8.2" fill="#86827d" stroke="#86827d" stroke-width="0.08" textLength="9.12" lengthAdjust="spacingAndGlyphs">14</text>
<text transform="matrix(0.7367 0 0 1 862.19 360.13)" font-size="8.4" fill="#86827d" stroke="#86827d" stroke-width="0.3">PO<tspan dx="1.09">/</tspan><tspan dx="1.09">PO</tspan></text>
<text x="844.32" y="377.30" font-size="8.2" fill="#86827d" stroke="#86827d" stroke-width="0.08" textLength="9.12" lengthAdjust="spacingAndGlyphs">15</text>
<text transform="matrix(0.7116 0 0 1 862.24 377.30)" font-size="8.4" fill="#86827d" stroke="#86827d" stroke-width="0.3">ÚT<tspan dx="1.12">/</tspan><tspan dx="1.12">UT</tspan></text>
<text x="844.33" y="394.48" font-size="8.2" fill="#86827d" stroke="#86827d" stroke-width="0.08" textLength="9.12" lengthAdjust="spacingAndGlyphs">16</text>
<text transform="matrix(0.6800 0 0 1 862.44 394.48)" font-size="8.4" fill="#86827d" stroke="#86827d" stroke-width="0.3">ST<tspan dx="1.18">/</tspan><tspan dx="1.18">ST</tspan></text>
<text x="844.39" y="411.65" font-size="8.2" fill="#86827d" stroke="#86827d" stroke-width="0.08" textLength="9.12" lengthAdjust="spacingAndGlyphs">17</text>
<text transform="matrix(0.7102 0 0 1 862.40 411.65)" font-size="8.4" fill="#86827d" stroke="#86827d" stroke-width="0.3">ČT<tspan dx="1.13">/</tspan><tspan dx="1.13">ŠT</tspan></text>
<text x="844.33" y="428.83" font-size="8.2" fill="#86827d" stroke="#86827d" stroke-width="0.08" textLength="9.12" lengthAdjust="spacingAndGlyphs">18</text>
<text transform="matrix(0.7658 0 0 1 862.17 428.83)" font-size="8.4" fill="#86827d" stroke="#86827d" stroke-width="0.3">PÁ<tspan dx="1.04">/</tspan><tspan dx="1.04">PIA</tspan></text>
<text x="844.37" y="446.01" font-size="8.2" fill="#86827d" stroke="#86827d" stroke-width="0.08" textLength="9.12" lengthAdjust="spacingAndGlyphs">19</text>
<text transform="matrix(0.7356 0 0 1 862.42 446.01)" font-size="8.4" fill="#86827d" stroke="#86827d" stroke-width="0.3">SO<tspan dx="1.09">/</tspan><tspan dx="1.09">SO</tspan></text>
<text x="844.31" y="463.18" font-size="8.2" fill="#ca2256" font-weight="bold" textLength="9.12" lengthAdjust="spacingAndGlyphs">20</text>
<text transform="matrix(0.7181 0 0 1 862.30 463.18)" font-size="8.4" fill="#ca2256" font-weight="bold" stroke="#ca2256" stroke-width="0.16">NE<tspan dx="1.11">/</tspan><tspan dx="1.11">NE</tspan></text>
<text x="844.38" y="480.36" font-size="8.2" fill="#86827d" stroke="#86827d" stroke-width="0.08" textLength="9.12" lengthAdjust="spacingAndGlyphs">21</text>
<text transform="matrix(0.7367 0 0 1 862.19 480.36)" font-size="8.4" fill="#86827d" stroke="#86827d" stroke-width="0.3">PO<tspan dx="1.09">/</tspan><tspan dx="1.09">PO</tspan></text>
<text x="844.39" y="497.53" font-size="8.2" fill="#86827d" stroke="#86827d" stroke-width="0.08" textLength="9.12" lengthAdjust="spacingAndGlyphs">22</text>
<text transform="matrix(0.7116 0 0 1 862.24 497.53)" font-size="8.4" fill="#86827d" stroke="#86827d" stroke-width="0.3">ÚT<tspan dx="1.12">/</tspan><tspan dx="1.12">UT</tspan></text>
<text x="844.33" y="514.71" font-size="8.2" fill="#86827d" stroke="#86827d" stroke-width="0.08" textLength="9.12" lengthAdjust="spacingAndGlyphs">23</text>
<text transform="matrix(0.6800 0 0 1 862.44 514.71)" font-size="8.4" fill="#86827d" stroke="#86827d" stroke-width="0.3">ST<tspan dx="1.18">/</tspan><tspan dx="1.18">ST</tspan></text>
<text x="844.22" y="531.89" font-size="8.2" fill="#86827d" stroke="#86827d" stroke-width="0.08" textLength="9.12" lengthAdjust="spacingAndGlyphs">24</text>
<text transform="matrix(0.7102 0 0 1 862.40 531.89)" font-size="8.4" fill="#86827d" stroke="#86827d" stroke-width="0.3">ČT<tspan dx="1.13">/</tspan><tspan dx="1.13">ŠT</tspan></text>
<text x="844.32" y="549.06" font-size="8.2" fill="#86827d" stroke="#86827d" stroke-width="0.08" textLength="9.12" lengthAdjust="spacingAndGlyphs">25</text>
<text transform="matrix(0.7658 0 0 1 862.17 549.06)" font-size="8.4" fill="#86827d" stroke="#86827d" stroke-width="0.3">PÁ<tspan dx="1.04">/</tspan><tspan dx="1.04">PIA</tspan></text>
<text x="844.33" y="566.24" font-size="8.2" fill="#86827d" stroke="#86827d" stroke-width="0.08" textLength="9.12" lengthAdjust="spacingAndGlyphs">26</text>
<text transform="matrix(0.7356 0 0 1 862.42 566.24)" font-size="8.4" fill="#86827d" stroke="#86827d" stroke-width="0.3">SO<tspan dx="1.09">/</tspan><tspan dx="1.09">SO</tspan></text>
<text x="844.33" y="583.41" font-size="8.2" fill="#ca2256" font-weight="bold" textLength="9.12" lengthAdjust="spacingAndGlyphs">27</text>
<text transform="matrix(0.7181 0 0 1 862.30 583.41)" font-size="8.4" fill="#ca2256" font-weight="bold" stroke="#ca2256" stroke-width="0.16">NE<tspan dx="1.11">/</tspan><tspan dx="1.11">NE</tspan></text>
<text x="844.33" y="600.59" font-size="8.2" fill="#86827d" stroke="#86827d" stroke-width="0.08" textLength="9.12" lengthAdjust="spacingAndGlyphs">28</text>
<text transform="matrix(0.7367 0 0 1 862.19 600.59)" font-size="8.4" fill="#86827d" stroke="#86827d" stroke-width="0.3">PO<tspan dx="1.09">/</tspan><tspan dx="1.09">PO</tspan></text>
<text x="844.37" y="617.77" font-size="8.2" fill="#86827d" stroke="#86827d" stroke-width="0.08" textLength="9.12" lengthAdjust="spacingAndGlyphs">29</text>
<text transform="matrix(0.7116 0 0 1 862.24 617.77)" font-size="8.4" fill="#86827d" stroke="#86827d" stroke-width="0.3">ÚT<tspan dx="1.12">/</tspan><tspan dx="1.12">UT</tspan></text>
<text x="844.29" y="634.94" font-size="8.2" fill="#86827d" stroke="#86827d" stroke-width="0.08" textLength="9.12" lengthAdjust="spacingAndGlyphs">30</text>
<text transform="matrix(0.6800 0 0 1 862.44 634.94)" font-size="8.4" fill="#86827d" stroke="#86827d" stroke-width="0.3">ST<tspan dx="1.18">/</tspan><tspan dx="1.18">ST</tspan></text>
<circle cx="12.40" cy="667.92" r="1.2" fill="#262626"/>
<circle cx="18.99" cy="668.75" r="1.2" fill="#262626"/>
<circle cx="25.40" cy="670.52" r="1.2" fill="#262626"/>
<circle cx="31.48" cy="673.20" r="1.2" fill="#262626"/>
<circle cx="37.11" cy="676.73" r="1.2" fill="#262626"/>
<circle cx="42.18" cy="681.03" r="1.2" fill="#262626"/>
<circle cx="46.57" cy="686.01" r="1.2" fill="#262626"/>
<circle cx="50.20" cy="691.58" r="1.2" fill="#262626"/>
<circle cx="52.99" cy="697.61" r="1.2" fill="#262626"/>
<circle cx="54.88" cy="703.98" r="1.2" fill="#262626"/>
<circle cx="55.83" cy="710.56" r="1.2" fill="#262626"/>
<circle cx="1011.49" cy="667.90" r="1.2" fill="#262626"/>
<circle cx="1004.86" cy="668.70" r="1.2" fill="#262626"/>
<circle cx="998.42" cy="670.45" r="1.2" fill="#262626"/>
<circle cx="992.30" cy="673.12" r="1.2" fill="#262626"/>
<circle cx="986.63" cy="676.64" r="1.2" fill="#262626"/>
<circle cx="981.54" cy="680.96" r="1.2" fill="#262626"/>
<circle cx="977.12" cy="685.96" r="1.2" fill="#262626"/>
<circle cx="973.47" cy="691.55" r="1.2" fill="#262626"/>
<circle cx="970.68" cy="697.62" r="1.2" fill="#262626"/>
<circle cx="968.79" cy="704.02" r="1.2" fill="#262626"/>
<circle cx="967.86" cy="710.63" r="1.2" fill="#262626"/>
</svg>
</body></html>
